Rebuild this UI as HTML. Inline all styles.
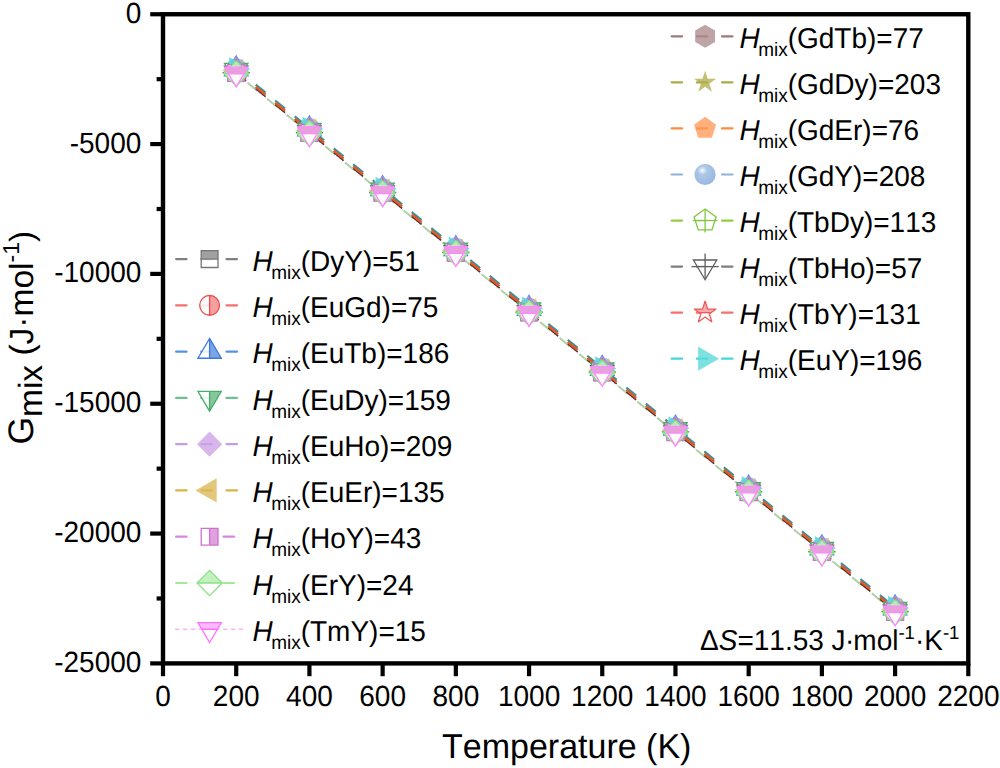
<!DOCTYPE html>
<html><head><meta charset="utf-8"><style>
html,body{margin:0;padding:0;background:#fff;}
svg{display:block;}
text{font-family:"Liberation Sans", sans-serif;fill:#000;font-kerning:none;text-rendering:geometricPrecision;}
.tk{font-size:28px;}
.ttl{font-size:34px;}
.lg{font-size:28px;}
</style></head><body>
<svg width="1000" height="768" viewBox="0 0 1000 768">
<defs><radialGradient id="sph" cx="0.42" cy="0.36" r="0.62" fx="0.36" fy="0.3">
<stop offset="0" stop-color="#ffffff"/><stop offset="0.12" stop-color="#d8e6f4"/><stop offset="0.35" stop-color="#a8c5e6"/><stop offset="1" stop-color="#92b4dc"/></radialGradient><clipPath id="c0_2362_728"><polygon points="227.81,64.40 244.61,64.40 244.61,81.20 227.81,81.20"/></clipPath><clipPath id="c1_2362_721"><circle cx="236.21" cy="72.18" r="9.9"/></clipPath><clipPath id="c3_2362_699"><polygon points="224.51,63.40 247.91,63.40 236.21,83.20"/></clipPath><clipPath id="c2_2362_692"><polygon points="236.21,56.10 247.91,75.90 224.51,75.90"/></clipPath><clipPath id="c15_2362_707"><polygon points="236.21,59.13 238.81,67.14 247.24,67.14 240.42,72.10 243.03,80.11 236.21,75.16 229.39,80.11 231.99,72.10 225.18,67.14 233.60,67.14"/></clipPath><clipPath id="c6_2362_730"><polygon points="227.81,64.61 244.61,64.61 244.61,81.41 227.81,81.41"/></clipPath><clipPath id="c7_2362_735"><polygon points="236.21,60.90 248.81,73.50 236.21,86.10 223.61,73.50"/></clipPath><clipPath id="c8_2362_737"><polygon points="224.51,67.14 247.91,67.14 236.21,86.94"/></clipPath><clipPath id="c0_3094_1326"><polygon points="301.02,124.28 317.82,124.28 317.82,141.08 301.02,141.08"/></clipPath><clipPath id="c1_3094_1320"><circle cx="309.42" cy="132.06" r="9.9"/></clipPath><clipPath id="c3_3094_1298"><polygon points="297.72,123.28 321.12,123.28 309.42,143.08"/></clipPath><clipPath id="c2_3094_1291"><polygon points="309.42,115.98 321.12,135.78 297.72,135.78"/></clipPath><clipPath id="c15_3094_1306"><polygon points="309.42,119.00 312.02,127.02 320.45,127.02 313.63,131.97 316.24,139.99 309.42,135.03 302.60,139.99 305.20,131.97 298.39,127.02 306.81,127.02"/></clipPath><clipPath id="c6_3094_1328"><polygon points="301.02,124.49 317.82,124.49 317.82,141.29 301.02,141.29"/></clipPath><clipPath id="c7_3094_1333"><polygon points="309.42,120.78 322.02,133.38 309.42,145.98 296.82,133.38"/></clipPath><clipPath id="c8_3094_1336"><polygon points="297.72,127.02 321.12,127.02 309.42,146.82"/></clipPath><clipPath id="c0_3826_1925"><polygon points="374.23,184.16 391.03,184.16 391.03,200.96 374.23,200.96"/></clipPath><clipPath id="c1_3826_1919"><circle cx="382.63" cy="191.94" r="9.9"/></clipPath><clipPath id="c3_3826_1897"><polygon points="370.93,183.15 394.33,183.15 382.63,202.95"/></clipPath><clipPath id="c2_3826_1890"><polygon points="382.63,175.85 394.33,195.65 370.93,195.65"/></clipPath><clipPath id="c15_3826_1904"><polygon points="382.63,178.88 385.23,186.90 393.66,186.90 386.84,191.85 389.45,199.87 382.63,194.91 375.81,199.87 378.41,191.85 371.60,186.90 380.02,186.90"/></clipPath><clipPath id="c6_3826_1927"><polygon points="374.23,184.37 391.03,184.37 391.03,201.17 374.23,201.17"/></clipPath><clipPath id="c7_3826_1932"><polygon points="382.63,180.66 395.23,193.26 382.63,205.86 370.03,193.26"/></clipPath><clipPath id="c8_3826_1934"><polygon points="370.93,186.89 394.33,186.89 382.63,206.69"/></clipPath><clipPath id="c0_4558_2524"><polygon points="447.44,244.04 464.24,244.04 464.24,260.84 447.44,260.84"/></clipPath><clipPath id="c1_4558_2518"><circle cx="455.84" cy="251.81" r="9.9"/></clipPath><clipPath id="c3_4558_2496"><polygon points="444.14,243.03 467.54,243.03 455.84,262.83"/></clipPath><clipPath id="c2_4558_2489"><polygon points="455.84,235.73 467.54,255.53 444.14,255.53"/></clipPath><clipPath id="c15_4558_2503"><polygon points="455.84,238.76 458.44,246.77 466.87,246.77 460.05,251.73 462.65,259.74 455.84,254.79 449.02,259.74 451.62,251.73 444.80,246.77 453.23,246.77"/></clipPath><clipPath id="c6_4558_2526"><polygon points="447.44,244.24 464.24,244.24 464.24,261.04 447.44,261.04"/></clipPath><clipPath id="c7_4558_2531"><polygon points="455.84,240.54 468.44,253.14 455.84,265.74 443.24,253.14"/></clipPath><clipPath id="c8_4558_2533"><polygon points="444.14,246.77 467.54,246.77 455.84,266.57"/></clipPath><clipPath id="c0_5290_3123"><polygon points="520.65,303.91 537.45,303.91 537.45,320.71 520.65,320.71"/></clipPath><clipPath id="c1_5290_3116"><circle cx="529.05" cy="311.69" r="9.9"/></clipPath><clipPath id="c3_5290_3095"><polygon points="517.35,302.91 540.75,302.91 529.05,322.71"/></clipPath><clipPath id="c2_5290_3088"><polygon points="529.05,295.61 540.75,315.41 517.35,315.41"/></clipPath><clipPath id="c15_5290_3102"><polygon points="529.05,298.64 531.65,306.65 540.08,306.65 533.26,311.61 535.86,319.62 529.05,314.67 522.23,319.62 524.83,311.61 518.01,306.65 526.44,306.65"/></clipPath><clipPath id="c6_5290_3125"><polygon points="520.65,304.12 537.45,304.12 537.45,320.92 520.65,320.92"/></clipPath><clipPath id="c7_5290_3130"><polygon points="529.05,300.41 541.65,313.01 529.05,325.61 516.45,313.01"/></clipPath><clipPath id="c8_5290_3132"><polygon points="517.35,306.65 540.75,306.65 529.05,326.45"/></clipPath><clipPath id="c0_6022_3721"><polygon points="593.85,363.79 610.65,363.79 610.65,380.59 593.85,380.59"/></clipPath><clipPath id="c1_6022_3715"><circle cx="602.25" cy="371.57" r="9.9"/></clipPath><clipPath id="c3_6022_3693"><polygon points="590.55,362.79 613.95,362.79 602.25,382.59"/></clipPath><clipPath id="c2_6022_3686"><polygon points="602.25,355.49 613.95,375.29 590.55,375.29"/></clipPath><clipPath id="c15_6022_3701"><polygon points="602.25,358.51 604.86,366.53 613.29,366.53 606.47,371.48 609.07,379.50 602.25,374.55 595.44,379.50 598.04,371.48 591.22,366.53 599.65,366.53"/></clipPath><clipPath id="c6_6022_3723"><polygon points="593.85,364.00 610.65,364.00 610.65,380.80 593.85,380.80"/></clipPath><clipPath id="c7_6022_3728"><polygon points="602.25,360.29 614.85,372.89 602.25,385.49 589.65,372.89"/></clipPath><clipPath id="c8_6022_3731"><polygon points="590.55,366.53 613.95,366.53 602.25,386.33"/></clipPath><clipPath id="c0_6754_4320"><polygon points="667.06,423.67 683.86,423.67 683.86,440.47 667.06,440.47"/></clipPath><clipPath id="c1_6754_4314"><circle cx="675.46" cy="431.45" r="9.9"/></clipPath><clipPath id="c3_6754_4292"><polygon points="663.76,422.66 687.16,422.66 675.46,442.46"/></clipPath><clipPath id="c2_6754_4285"><polygon points="675.46,415.36 687.16,435.16 663.76,435.16"/></clipPath><clipPath id="c15_6754_4299"><polygon points="675.46,418.39 678.07,426.41 686.50,426.41 679.68,431.36 682.28,439.38 675.46,434.42 668.65,439.38 671.25,431.36 664.43,426.41 672.86,426.41"/></clipPath><clipPath id="c6_6754_4322"><polygon points="667.06,423.88 683.86,423.88 683.86,440.68 667.06,440.68"/></clipPath><clipPath id="c7_6754_4327"><polygon points="675.46,420.17 688.06,432.77 675.46,445.37 662.86,432.77"/></clipPath><clipPath id="c8_6754_4330"><polygon points="663.76,426.40 687.16,426.40 675.46,446.20"/></clipPath><clipPath id="c0_7486_4919"><polygon points="740.27,483.55 757.07,483.55 757.07,500.35 740.27,500.35"/></clipPath><clipPath id="c1_7486_4913"><circle cx="748.67" cy="491.32" r="9.9"/></clipPath><clipPath id="c3_7486_4891"><polygon points="736.97,482.54 760.37,482.54 748.67,502.34"/></clipPath><clipPath id="c2_7486_4884"><polygon points="748.67,475.24 760.37,495.04 736.97,495.04"/></clipPath><clipPath id="c15_7486_4898"><polygon points="748.67,478.27 751.28,486.28 759.70,486.28 752.89,491.24 755.49,499.25 748.67,494.30 741.85,499.25 744.46,491.24 737.64,486.28 746.07,486.28"/></clipPath><clipPath id="c6_7486_4921"><polygon points="740.27,483.75 757.07,483.75 757.07,500.55 740.27,500.55"/></clipPath><clipPath id="c7_7486_4926"><polygon points="748.67,480.05 761.27,492.65 748.67,505.25 736.07,492.65"/></clipPath><clipPath id="c8_7486_4928"><polygon points="736.97,486.28 760.37,486.28 748.67,506.08"/></clipPath><clipPath id="c0_8218_5518"><polygon points="813.48,543.42 830.28,543.42 830.28,560.22 813.48,560.22"/></clipPath><clipPath id="c1_8218_5512"><circle cx="821.88" cy="551.20" r="9.9"/></clipPath><clipPath id="c3_8218_5490"><polygon points="810.18,542.42 833.58,542.42 821.88,562.22"/></clipPath><clipPath id="c2_8218_5483"><polygon points="821.88,535.12 833.58,554.92 810.18,554.92"/></clipPath><clipPath id="c15_8218_5497"><polygon points="821.88,538.15 824.49,546.16 832.91,546.16 826.10,551.12 828.70,559.13 821.88,554.18 815.06,559.13 817.67,551.12 810.85,546.16 819.28,546.16"/></clipPath><clipPath id="c6_8218_5520"><polygon points="813.48,543.63 830.28,543.63 830.28,560.43 813.48,560.43"/></clipPath><clipPath id="c7_8218_5525"><polygon points="821.88,539.93 834.48,552.53 821.88,565.13 809.28,552.53"/></clipPath><clipPath id="c8_8218_5527"><polygon points="810.18,546.16 833.58,546.16 821.88,565.96"/></clipPath><clipPath id="c0_8950_6117"><polygon points="886.69,603.30 903.49,603.30 903.49,620.10 886.69,620.10"/></clipPath><clipPath id="c1_8950_6110"><circle cx="895.09" cy="611.08" r="9.9"/></clipPath><clipPath id="c3_8950_6088"><polygon points="883.39,602.30 906.79,602.30 895.09,622.10"/></clipPath><clipPath id="c2_8950_6081"><polygon points="895.09,595.00 906.79,614.80 883.39,614.80"/></clipPath><clipPath id="c15_8950_6096"><polygon points="895.09,598.02 897.70,606.04 906.12,606.04 899.31,610.99 901.91,619.01 895.09,614.06 888.27,619.01 890.88,610.99 884.06,606.04 892.49,606.04"/></clipPath><clipPath id="c6_8950_6119"><polygon points="886.69,603.51 903.49,603.51 903.49,620.31 886.69,620.31"/></clipPath><clipPath id="c7_8950_6124"><polygon points="895.09,599.80 907.69,612.40 895.09,625.00 882.49,612.40"/></clipPath><clipPath id="c8_8950_6126"><polygon points="883.39,606.04 906.79,606.04 895.09,625.84"/></clipPath><clipPath id="c100_2096_2591"><polygon points="201.20,250.70 218.00,250.70 218.00,267.50 201.20,267.50"/></clipPath><clipPath id="c101_2096_3053"><circle cx="209.60" cy="305.37" r="9.9"/></clipPath><clipPath id="c102_2096_3516"><polygon points="209.60,338.44 221.30,358.24 197.90,358.24"/></clipPath><clipPath id="c103_2096_3979"><polygon points="197.90,391.31 221.30,391.31 209.60,411.11"/></clipPath><clipPath id="c106_2096_5367"><polygon points="201.20,528.32 218.00,528.32 218.00,545.12 201.20,545.12"/></clipPath><clipPath id="c107_2096_5829"><polygon points="209.60,570.39 222.20,582.99 209.60,595.59 197.00,582.99"/></clipPath><clipPath id="c108_2096_6292"><polygon points="197.90,622.66 221.30,622.66 209.60,642.46"/></clipPath><clipPath id="c115_7051_3126"><polygon points="705.10,301.06 707.70,309.08 716.13,309.08 709.31,314.03 711.92,322.04 705.10,317.09 698.28,322.04 700.89,314.03 694.07,309.08 702.50,309.08"/></clipPath></defs>
<rect width="1000" height="768" fill="#fff"/>
<rect x="163.0" y="14.25" width="805.30" height="649.15" fill="none" stroke="#000" stroke-width="4.4"/><line x1="163.00" y1="663.4" x2="163.00" y2="676.2" stroke="#000" stroke-width="4.2"/><text transform="translate(163.00,706.4) scale(1,1.045)" text-anchor="middle" class="tk">0</text><line x1="236.21" y1="663.4" x2="236.21" y2="676.2" stroke="#000" stroke-width="4.2"/><text transform="translate(236.21,706.4) scale(1,1.045)" text-anchor="middle" class="tk">200</text><line x1="309.42" y1="663.4" x2="309.42" y2="676.2" stroke="#000" stroke-width="4.2"/><text transform="translate(309.42,706.4) scale(1,1.045)" text-anchor="middle" class="tk">400</text><line x1="382.63" y1="663.4" x2="382.63" y2="676.2" stroke="#000" stroke-width="4.2"/><text transform="translate(382.63,706.4) scale(1,1.045)" text-anchor="middle" class="tk">600</text><line x1="455.84" y1="663.4" x2="455.84" y2="676.2" stroke="#000" stroke-width="4.2"/><text transform="translate(455.84,706.4) scale(1,1.045)" text-anchor="middle" class="tk">800</text><line x1="529.05" y1="663.4" x2="529.05" y2="676.2" stroke="#000" stroke-width="4.2"/><text transform="translate(529.05,706.4) scale(1,1.045)" text-anchor="middle" class="tk">1000</text><line x1="602.25" y1="663.4" x2="602.25" y2="676.2" stroke="#000" stroke-width="4.2"/><text transform="translate(602.25,706.4) scale(1,1.045)" text-anchor="middle" class="tk">1200</text><line x1="675.46" y1="663.4" x2="675.46" y2="676.2" stroke="#000" stroke-width="4.2"/><text transform="translate(675.46,706.4) scale(1,1.045)" text-anchor="middle" class="tk">1400</text><line x1="748.67" y1="663.4" x2="748.67" y2="676.2" stroke="#000" stroke-width="4.2"/><text transform="translate(748.67,706.4) scale(1,1.045)" text-anchor="middle" class="tk">1600</text><line x1="821.88" y1="663.4" x2="821.88" y2="676.2" stroke="#000" stroke-width="4.2"/><text transform="translate(821.88,706.4) scale(1,1.045)" text-anchor="middle" class="tk">1800</text><line x1="895.09" y1="663.4" x2="895.09" y2="676.2" stroke="#000" stroke-width="4.2"/><text transform="translate(895.09,706.4) scale(1,1.045)" text-anchor="middle" class="tk">2000</text><line x1="968.30" y1="663.4" x2="968.30" y2="676.2" stroke="#000" stroke-width="4.2"/><text transform="translate(968.30,706.4) scale(1,1.045)" text-anchor="middle" class="tk">2200</text><line x1="150.2" y1="14.25" x2="163.0" y2="14.25" stroke="#000" stroke-width="4.2"/><text transform="translate(141.35,22.75) scale(1,1.045)" text-anchor="end" class="tk">0</text><line x1="156.6" y1="79.17" x2="163.0" y2="79.17" stroke="#000" stroke-width="4.2"/><line x1="150.2" y1="144.08" x2="163.0" y2="144.08" stroke="#000" stroke-width="4.2"/><text transform="translate(141.35,152.58) scale(1,1.045)" text-anchor="end" class="tk">-5000</text><line x1="156.6" y1="209.00" x2="163.0" y2="209.00" stroke="#000" stroke-width="4.2"/><line x1="150.2" y1="273.91" x2="163.0" y2="273.91" stroke="#000" stroke-width="4.2"/><text transform="translate(141.35,282.41) scale(1,1.045)" text-anchor="end" class="tk">-10000</text><line x1="156.6" y1="338.82" x2="163.0" y2="338.82" stroke="#000" stroke-width="4.2"/><line x1="150.2" y1="403.74" x2="163.0" y2="403.74" stroke="#000" stroke-width="4.2"/><text transform="translate(141.35,412.24) scale(1,1.045)" text-anchor="end" class="tk">-15000</text><line x1="156.6" y1="468.65" x2="163.0" y2="468.65" stroke="#000" stroke-width="4.2"/><line x1="150.2" y1="533.57" x2="163.0" y2="533.57" stroke="#000" stroke-width="4.2"/><text transform="translate(141.35,542.07) scale(1,1.045)" text-anchor="end" class="tk">-20000</text><line x1="156.6" y1="598.49" x2="163.0" y2="598.49" stroke="#000" stroke-width="4.2"/><line x1="150.2" y1="663.40" x2="163.0" y2="663.40" stroke="#000" stroke-width="4.2"/><text transform="translate(141.35,671.90) scale(1,1.045)" text-anchor="end" class="tk">-25000</text><text transform="translate(442.0,758) scale(1,1.015)" class="ttl">Temperature (K)</text><text transform="translate(32.8,444.6) rotate(-90)" class="ttl" style="font-size:33.5px"><tspan font-size="35.5px">G</tspan><tspan dy="9.3">mix</tspan><tspan dy="-9.3"> (J·mol</tspan><tspan dy="-13.7" font-size="23px">-1</tspan><tspan dy="13.7">)</tspan></text><g><polyline points="236.21,73.50 309.42,133.38 382.63,193.26 455.84,253.14 529.05,313.01 602.25,372.89 675.46,432.77 748.67,492.65 821.88,552.53 895.09,612.40" fill="none" stroke="#a6dc9e" stroke-width="2.0" stroke-dasharray="12.7 12.5" stroke-dashoffset="10.5"/><polyline points="236.21,73.74 309.42,133.62 382.63,193.49 455.84,253.37 529.05,313.25 602.25,373.13 675.46,433.00 748.67,492.88 821.88,552.76 895.09,612.64" fill="none" stroke="#ee8ee6" stroke-width="1.1" stroke-dasharray="1.3 2.4" stroke-opacity="0.6"/><polyline points="236.21,68.57 309.42,128.45 382.63,188.33 455.84,248.20 529.05,308.08 602.25,367.96 675.46,427.84 748.67,487.71 821.88,547.59 895.09,607.47" fill="none" stroke="#3d8e9c" stroke-width="2.2" stroke-dasharray="12.7 12.5"/><polyline points="236.21,72.73 309.42,132.60 382.63,192.48 455.84,252.36 529.05,312.24 602.25,372.11 675.46,431.99 748.67,491.87 821.88,551.75 895.09,611.62" fill="none" stroke="#4a2d1e" stroke-width="1.6" stroke-dasharray="12.7 12.5"/><polyline points="236.21,70.80 309.42,130.68 382.63,190.56 455.84,250.44 529.05,310.31 602.25,370.19 675.46,430.07 748.67,489.95 821.88,549.82 895.09,609.70" fill="none" stroke="#e05a2a" stroke-width="2.5" stroke-dasharray="12.7 12.5"/></g><g><polygon points="236.21,60.68 246.13,66.40 246.13,77.85 236.21,83.58 226.29,77.85 226.29,66.40" fill="#ad8a8e" fill-opacity="0.6" stroke="none" stroke-width="1.3" stroke-linejoin="miter" stroke-miterlimit="3"/><polygon points="236.21,57.26 238.81,65.27 247.24,65.27 240.42,70.23 243.03,78.24 236.21,73.29 229.39,78.24 231.99,70.23 225.18,65.27 233.60,65.27" fill="#b1ae4a" fill-opacity="0.6" stroke="none" stroke-width="1.3" stroke-linejoin="miter" stroke-miterlimit="3"/><polygon points="236.21,60.55 247.24,68.57 243.03,81.54 229.39,81.54 225.18,68.57" fill="#ff9a58" fill-opacity="0.6" stroke="none" stroke-width="1.3" stroke-linejoin="miter" stroke-miterlimit="3"/><circle cx="236.21" cy="68.73" r="10.6" fill="url(#sph)" fill-opacity="0.95"/><polygon points="236.21,59.59 247.24,67.61 243.03,80.58 229.39,80.58 225.18,67.61" fill="#fff" fill-opacity="0.55"/><polygon points="236.21,59.59 247.24,67.61 243.03,80.58 229.39,80.58 225.18,67.61" fill="none" stroke="#80c640" stroke-width="1.3" stroke-linejoin="miter" stroke-miterlimit="3"/><line x1="236.21" y1="59.59" x2="236.21" y2="83.19" stroke="#80c640" stroke-width="1.3"/><line x1="223.91" y1="71.19" x2="248.51" y2="71.19" stroke="#80c640" stroke-width="1.3"/><polygon points="224.51,66.05 247.91,66.05 236.21,85.85" fill="#fff" fill-opacity="0.55"/><polygon points="224.51,66.05 247.91,66.05 236.21,85.85" fill="none" stroke="#5e5e5e" stroke-width="1.3" stroke-linejoin="miter" stroke-miterlimit="3"/><line x1="236.21" y1="59.45" x2="236.21" y2="84.65" stroke="#5e5e5e" stroke-width="1.3"/><line x1="222.61" y1="72.65" x2="249.81" y2="72.65" stroke="#5e5e5e" stroke-width="1.3"/><polygon points="222.01,70.62 243.31,58.52 243.31,82.72" fill="#dbb756" fill-opacity="0.6" stroke="none" stroke-width="1.3" stroke-linejoin="miter" stroke-miterlimit="3"/><polygon points="227.81,64.40 244.61,64.40 244.61,81.20 227.81,81.20" fill="#fff" fill-opacity="0.55"/><g clip-path="url(#c0_2362_728)"><rect x="216.21" y="52.80" width="40" height="20" fill="#8a8a8a" fill-opacity="0.65"/><line x1="216.21" y1="72.80" x2="256.21" y2="72.80" stroke="#767676" stroke-width="1.3"/></g><polygon points="227.81,64.40 244.61,64.40 244.61,81.20 227.81,81.20" fill="none" stroke="#767676" stroke-width="1.3" stroke-linejoin="miter" stroke-miterlimit="3"/><circle cx="236.21" cy="72.18" r="9.9" fill="#fff" fill-opacity="0.55"/><g clip-path="url(#c1_2362_721)"><rect x="236.21" y="52.18" width="20" height="40" fill="#f28888" fill-opacity="0.65"/><line x1="236.21" y1="52.18" x2="236.21" y2="92.18" stroke="#f04848" stroke-width="1.3"/></g><circle cx="236.21" cy="72.18" r="9.9" fill="none" stroke="#f04848" stroke-width="1.3" stroke-linejoin="miter" stroke-miterlimit="3"/><polygon points="224.51,63.40 247.91,63.40 236.21,83.20" fill="#fff" fill-opacity="0.55"/><g clip-path="url(#c3_2362_699)"><rect x="236.21" y="50.00" width="20" height="40" fill="#64bb82" fill-opacity="0.65"/><line x1="236.21" y1="50.00" x2="236.21" y2="90.00" stroke="#48ad6a" stroke-width="1.3"/></g><polygon points="224.51,63.40 247.91,63.40 236.21,83.20" fill="none" stroke="#48ad6a" stroke-width="1.3" stroke-linejoin="miter" stroke-miterlimit="3"/><polygon points="236.21,56.10 247.91,75.90 224.51,75.90" fill="#fff" fill-opacity="0.55"/><g clip-path="url(#c2_2362_692)"><rect x="236.21" y="49.30" width="20" height="40" fill="#5b8fe0" fill-opacity="0.65"/><line x1="236.21" y1="49.30" x2="236.21" y2="89.30" stroke="#3a78e0" stroke-width="1.3"/></g><polygon points="236.21,56.10 247.91,75.90 224.51,75.90" fill="none" stroke="#3a78e0" stroke-width="1.3" stroke-linejoin="miter" stroke-miterlimit="3"/><polygon points="236.21,56.10 248.81,68.70 236.21,81.30 223.61,68.70" fill="#cba2e6" fill-opacity="0.6" stroke="none" stroke-width="1.3" stroke-linejoin="miter" stroke-miterlimit="3"/><polygon points="236.21,59.13 238.81,67.14 247.24,67.14 240.42,72.10 243.03,80.11 236.21,75.16 229.39,80.11 231.99,72.10 225.18,67.14 233.60,67.14" fill="#fff" fill-opacity="0.55"/><g clip-path="url(#c15_2362_707)"><rect x="216.21" y="50.73" width="40" height="20" fill="#f49494" fill-opacity="0.65"/><line x1="216.21" y1="70.73" x2="256.21" y2="70.73" stroke="#ef5a5a" stroke-width="1.3"/></g><polygon points="236.21,59.13 238.81,67.14 247.24,67.14 240.42,72.10 243.03,80.11 236.21,75.16 229.39,80.11 231.99,72.10 225.18,67.14 233.60,67.14" fill="none" stroke="#ef5a5a" stroke-width="1.3" stroke-linejoin="miter" stroke-miterlimit="3"/><polygon points="250.21,69.04 229.21,56.94 229.21,81.14" fill="#5ad8d8" fill-opacity="0.85" stroke="none" stroke-width="1.3" stroke-linejoin="miter" stroke-miterlimit="3"/><polygon points="227.81,64.61 244.61,64.61 244.61,81.41 227.81,81.41" fill="#fff" fill-opacity="0.55"/><g clip-path="url(#c6_2362_730)"><rect x="236.21" y="53.01" width="20" height="40" fill="#d98ad6" fill-opacity="0.65"/><line x1="236.21" y1="53.01" x2="236.21" y2="93.01" stroke="#cf72cc" stroke-width="1.3"/></g><polygon points="227.81,64.61 244.61,64.61 244.61,81.41 227.81,81.41" fill="none" stroke="#cf72cc" stroke-width="1.3" stroke-linejoin="miter" stroke-miterlimit="3"/><polygon points="236.21,60.90 248.81,73.50 236.21,86.10 223.61,73.50" fill="#fff" fill-opacity="0.55"/><g clip-path="url(#c7_2362_735)"><rect x="216.21" y="53.50" width="40" height="20" fill="#b2eeac" fill-opacity="0.65"/><line x1="216.21" y1="73.50" x2="256.21" y2="73.50" stroke="#8be087" stroke-width="1.3"/></g><polygon points="236.21,60.90 248.81,73.50 236.21,86.10 223.61,73.50" fill="none" stroke="#8be087" stroke-width="1.3" stroke-linejoin="miter" stroke-miterlimit="3"/><polygon points="224.51,67.14 247.91,67.14 236.21,86.94" fill="#fff" fill-opacity="0.9"/><g clip-path="url(#c8_2362_737)"><rect x="216.21" y="53.74" width="40" height="20" fill="#e6a0dc" fill-opacity="1.0"/><line x1="216.21" y1="73.74" x2="256.21" y2="73.74" stroke="#ff88ff" stroke-width="1.3"/></g><polygon points="224.51,67.14 247.91,67.14 236.21,86.94" fill="none" stroke="#ff88ff" stroke-width="1.3" stroke-linejoin="miter" stroke-miterlimit="3"/><polygon points="309.42,120.56 319.33,126.28 319.33,137.73 309.42,143.46 299.50,137.73 299.50,126.28" fill="#ad8a8e" fill-opacity="0.6" stroke="none" stroke-width="1.3" stroke-linejoin="miter" stroke-miterlimit="3"/><polygon points="309.42,117.13 312.02,125.15 320.45,125.15 313.63,130.10 316.24,138.12 309.42,133.17 302.60,138.12 305.20,130.10 298.39,125.15 306.81,125.15" fill="#b1ae4a" fill-opacity="0.6" stroke="none" stroke-width="1.3" stroke-linejoin="miter" stroke-miterlimit="3"/><polygon points="309.42,120.43 320.45,128.45 316.24,141.42 302.60,141.42 298.39,128.45" fill="#ff9a58" fill-opacity="0.6" stroke="none" stroke-width="1.3" stroke-linejoin="miter" stroke-miterlimit="3"/><circle cx="309.42" cy="128.60" r="10.6" fill="url(#sph)" fill-opacity="0.95"/><polygon points="309.42,119.47 320.45,127.49 316.24,140.46 302.60,140.46 298.39,127.49" fill="#fff" fill-opacity="0.55"/><polygon points="309.42,119.47 320.45,127.49 316.24,140.46 302.60,140.46 298.39,127.49" fill="none" stroke="#80c640" stroke-width="1.3" stroke-linejoin="miter" stroke-miterlimit="3"/><line x1="309.42" y1="119.47" x2="309.42" y2="143.07" stroke="#80c640" stroke-width="1.3"/><line x1="297.12" y1="131.07" x2="321.72" y2="131.07" stroke="#80c640" stroke-width="1.3"/><polygon points="297.72,125.93 321.12,125.93 309.42,145.73" fill="#fff" fill-opacity="0.55"/><polygon points="297.72,125.93 321.12,125.93 309.42,145.73" fill="none" stroke="#5e5e5e" stroke-width="1.3" stroke-linejoin="miter" stroke-miterlimit="3"/><line x1="309.42" y1="119.33" x2="309.42" y2="144.53" stroke="#5e5e5e" stroke-width="1.3"/><line x1="295.82" y1="132.53" x2="323.02" y2="132.53" stroke="#5e5e5e" stroke-width="1.3"/><polygon points="295.22,130.50 316.52,118.40 316.52,142.60" fill="#dbb756" fill-opacity="0.6" stroke="none" stroke-width="1.3" stroke-linejoin="miter" stroke-miterlimit="3"/><polygon points="301.02,124.28 317.82,124.28 317.82,141.08 301.02,141.08" fill="#fff" fill-opacity="0.55"/><g clip-path="url(#c0_3094_1326)"><rect x="289.42" y="112.68" width="40" height="20" fill="#8a8a8a" fill-opacity="0.65"/><line x1="289.42" y1="132.68" x2="329.42" y2="132.68" stroke="#767676" stroke-width="1.3"/></g><polygon points="301.02,124.28 317.82,124.28 317.82,141.08 301.02,141.08" fill="none" stroke="#767676" stroke-width="1.3" stroke-linejoin="miter" stroke-miterlimit="3"/><circle cx="309.42" cy="132.06" r="9.9" fill="#fff" fill-opacity="0.55"/><g clip-path="url(#c1_3094_1320)"><rect x="309.42" y="112.06" width="20" height="40" fill="#f28888" fill-opacity="0.65"/><line x1="309.42" y1="112.06" x2="309.42" y2="152.06" stroke="#f04848" stroke-width="1.3"/></g><circle cx="309.42" cy="132.06" r="9.9" fill="none" stroke="#f04848" stroke-width="1.3" stroke-linejoin="miter" stroke-miterlimit="3"/><polygon points="297.72,123.28 321.12,123.28 309.42,143.08" fill="#fff" fill-opacity="0.55"/><g clip-path="url(#c3_3094_1298)"><rect x="309.42" y="109.88" width="20" height="40" fill="#64bb82" fill-opacity="0.65"/><line x1="309.42" y1="109.88" x2="309.42" y2="149.88" stroke="#48ad6a" stroke-width="1.3"/></g><polygon points="297.72,123.28 321.12,123.28 309.42,143.08" fill="none" stroke="#48ad6a" stroke-width="1.3" stroke-linejoin="miter" stroke-miterlimit="3"/><polygon points="309.42,115.98 321.12,135.78 297.72,135.78" fill="#fff" fill-opacity="0.55"/><g clip-path="url(#c2_3094_1291)"><rect x="309.42" y="109.18" width="20" height="40" fill="#5b8fe0" fill-opacity="0.65"/><line x1="309.42" y1="109.18" x2="309.42" y2="149.18" stroke="#3a78e0" stroke-width="1.3"/></g><polygon points="309.42,115.98 321.12,135.78 297.72,135.78" fill="none" stroke="#3a78e0" stroke-width="1.3" stroke-linejoin="miter" stroke-miterlimit="3"/><polygon points="309.42,115.98 322.02,128.58 309.42,141.18 296.82,128.58" fill="#cba2e6" fill-opacity="0.6" stroke="none" stroke-width="1.3" stroke-linejoin="miter" stroke-miterlimit="3"/><polygon points="309.42,119.00 312.02,127.02 320.45,127.02 313.63,131.97 316.24,139.99 309.42,135.03 302.60,139.99 305.20,131.97 298.39,127.02 306.81,127.02" fill="#fff" fill-opacity="0.55"/><g clip-path="url(#c15_3094_1306)"><rect x="289.42" y="110.60" width="40" height="20" fill="#f49494" fill-opacity="0.65"/><line x1="289.42" y1="130.60" x2="329.42" y2="130.60" stroke="#ef5a5a" stroke-width="1.3"/></g><polygon points="309.42,119.00 312.02,127.02 320.45,127.02 313.63,131.97 316.24,139.99 309.42,135.03 302.60,139.99 305.20,131.97 298.39,127.02 306.81,127.02" fill="none" stroke="#ef5a5a" stroke-width="1.3" stroke-linejoin="miter" stroke-miterlimit="3"/><polygon points="323.42,128.92 302.42,116.82 302.42,141.02" fill="#5ad8d8" fill-opacity="0.85" stroke="none" stroke-width="1.3" stroke-linejoin="miter" stroke-miterlimit="3"/><polygon points="301.02,124.49 317.82,124.49 317.82,141.29 301.02,141.29" fill="#fff" fill-opacity="0.55"/><g clip-path="url(#c6_3094_1328)"><rect x="309.42" y="112.89" width="20" height="40" fill="#d98ad6" fill-opacity="0.65"/><line x1="309.42" y1="112.89" x2="309.42" y2="152.89" stroke="#cf72cc" stroke-width="1.3"/></g><polygon points="301.02,124.49 317.82,124.49 317.82,141.29 301.02,141.29" fill="none" stroke="#cf72cc" stroke-width="1.3" stroke-linejoin="miter" stroke-miterlimit="3"/><polygon points="309.42,120.78 322.02,133.38 309.42,145.98 296.82,133.38" fill="#fff" fill-opacity="0.55"/><g clip-path="url(#c7_3094_1333)"><rect x="289.42" y="113.38" width="40" height="20" fill="#b2eeac" fill-opacity="0.65"/><line x1="289.42" y1="133.38" x2="329.42" y2="133.38" stroke="#8be087" stroke-width="1.3"/></g><polygon points="309.42,120.78 322.02,133.38 309.42,145.98 296.82,133.38" fill="none" stroke="#8be087" stroke-width="1.3" stroke-linejoin="miter" stroke-miterlimit="3"/><polygon points="297.72,127.02 321.12,127.02 309.42,146.82" fill="#fff" fill-opacity="0.9"/><g clip-path="url(#c8_3094_1336)"><rect x="289.42" y="113.62" width="40" height="20" fill="#e6a0dc" fill-opacity="1.0"/><line x1="289.42" y1="133.62" x2="329.42" y2="133.62" stroke="#ff88ff" stroke-width="1.3"/></g><polygon points="297.72,127.02 321.12,127.02 309.42,146.82" fill="none" stroke="#ff88ff" stroke-width="1.3" stroke-linejoin="miter" stroke-miterlimit="3"/><polygon points="382.63,180.43 392.54,186.16 392.54,197.61 382.63,203.33 372.71,197.61 372.71,186.16" fill="#ad8a8e" fill-opacity="0.6" stroke="none" stroke-width="1.3" stroke-linejoin="miter" stroke-miterlimit="3"/><polygon points="382.63,177.01 385.23,185.03 393.66,185.03 386.84,189.98 389.45,198.00 382.63,193.04 375.81,198.00 378.41,189.98 371.60,185.03 380.02,185.03" fill="#b1ae4a" fill-opacity="0.6" stroke="none" stroke-width="1.3" stroke-linejoin="miter" stroke-miterlimit="3"/><polygon points="382.63,180.31 393.66,188.32 389.45,201.29 375.81,201.29 371.60,188.32" fill="#ff9a58" fill-opacity="0.6" stroke="none" stroke-width="1.3" stroke-linejoin="miter" stroke-miterlimit="3"/><circle cx="382.63" cy="188.48" r="10.6" fill="url(#sph)" fill-opacity="0.95"/><polygon points="382.63,179.35 393.66,187.36 389.45,200.33 375.81,200.33 371.60,187.36" fill="#fff" fill-opacity="0.55"/><polygon points="382.63,179.35 393.66,187.36 389.45,200.33 375.81,200.33 371.60,187.36" fill="none" stroke="#80c640" stroke-width="1.3" stroke-linejoin="miter" stroke-miterlimit="3"/><line x1="382.63" y1="179.35" x2="382.63" y2="202.95" stroke="#80c640" stroke-width="1.3"/><line x1="370.33" y1="190.95" x2="394.93" y2="190.95" stroke="#80c640" stroke-width="1.3"/><polygon points="370.93,185.80 394.33,185.80 382.63,205.60" fill="#fff" fill-opacity="0.55"/><polygon points="370.93,185.80 394.33,185.80 382.63,205.60" fill="none" stroke="#5e5e5e" stroke-width="1.3" stroke-linejoin="miter" stroke-miterlimit="3"/><line x1="382.63" y1="179.20" x2="382.63" y2="204.40" stroke="#5e5e5e" stroke-width="1.3"/><line x1="369.03" y1="192.40" x2="396.23" y2="192.40" stroke="#5e5e5e" stroke-width="1.3"/><polygon points="368.43,190.38 389.73,178.28 389.73,202.48" fill="#dbb756" fill-opacity="0.6" stroke="none" stroke-width="1.3" stroke-linejoin="miter" stroke-miterlimit="3"/><polygon points="374.23,184.16 391.03,184.16 391.03,200.96 374.23,200.96" fill="#fff" fill-opacity="0.55"/><g clip-path="url(#c0_3826_1925)"><rect x="362.63" y="172.56" width="40" height="20" fill="#8a8a8a" fill-opacity="0.65"/><line x1="362.63" y1="192.56" x2="402.63" y2="192.56" stroke="#767676" stroke-width="1.3"/></g><polygon points="374.23,184.16 391.03,184.16 391.03,200.96 374.23,200.96" fill="none" stroke="#767676" stroke-width="1.3" stroke-linejoin="miter" stroke-miterlimit="3"/><circle cx="382.63" cy="191.94" r="9.9" fill="#fff" fill-opacity="0.55"/><g clip-path="url(#c1_3826_1919)"><rect x="382.63" y="171.94" width="20" height="40" fill="#f28888" fill-opacity="0.65"/><line x1="382.63" y1="171.94" x2="382.63" y2="211.94" stroke="#f04848" stroke-width="1.3"/></g><circle cx="382.63" cy="191.94" r="9.9" fill="none" stroke="#f04848" stroke-width="1.3" stroke-linejoin="miter" stroke-miterlimit="3"/><polygon points="370.93,183.15 394.33,183.15 382.63,202.95" fill="#fff" fill-opacity="0.55"/><g clip-path="url(#c3_3826_1897)"><rect x="382.63" y="169.75" width="20" height="40" fill="#64bb82" fill-opacity="0.65"/><line x1="382.63" y1="169.75" x2="382.63" y2="209.75" stroke="#48ad6a" stroke-width="1.3"/></g><polygon points="370.93,183.15 394.33,183.15 382.63,202.95" fill="none" stroke="#48ad6a" stroke-width="1.3" stroke-linejoin="miter" stroke-miterlimit="3"/><polygon points="382.63,175.85 394.33,195.65 370.93,195.65" fill="#fff" fill-opacity="0.55"/><g clip-path="url(#c2_3826_1890)"><rect x="382.63" y="169.05" width="20" height="40" fill="#5b8fe0" fill-opacity="0.65"/><line x1="382.63" y1="169.05" x2="382.63" y2="209.05" stroke="#3a78e0" stroke-width="1.3"/></g><polygon points="382.63,175.85 394.33,195.65 370.93,195.65" fill="none" stroke="#3a78e0" stroke-width="1.3" stroke-linejoin="miter" stroke-miterlimit="3"/><polygon points="382.63,175.86 395.23,188.46 382.63,201.06 370.03,188.46" fill="#cba2e6" fill-opacity="0.6" stroke="none" stroke-width="1.3" stroke-linejoin="miter" stroke-miterlimit="3"/><polygon points="382.63,178.88 385.23,186.90 393.66,186.90 386.84,191.85 389.45,199.87 382.63,194.91 375.81,199.87 378.41,191.85 371.60,186.90 380.02,186.90" fill="#fff" fill-opacity="0.55"/><g clip-path="url(#c15_3826_1904)"><rect x="362.63" y="170.48" width="40" height="20" fill="#f49494" fill-opacity="0.65"/><line x1="362.63" y1="190.48" x2="402.63" y2="190.48" stroke="#ef5a5a" stroke-width="1.3"/></g><polygon points="382.63,178.88 385.23,186.90 393.66,186.90 386.84,191.85 389.45,199.87 382.63,194.91 375.81,199.87 378.41,191.85 371.60,186.90 380.02,186.90" fill="none" stroke="#ef5a5a" stroke-width="1.3" stroke-linejoin="miter" stroke-miterlimit="3"/><polygon points="396.63,188.79 375.63,176.69 375.63,200.89" fill="#5ad8d8" fill-opacity="0.85" stroke="none" stroke-width="1.3" stroke-linejoin="miter" stroke-miterlimit="3"/><polygon points="374.23,184.37 391.03,184.37 391.03,201.17 374.23,201.17" fill="#fff" fill-opacity="0.55"/><g clip-path="url(#c6_3826_1927)"><rect x="382.63" y="172.77" width="20" height="40" fill="#d98ad6" fill-opacity="0.65"/><line x1="382.63" y1="172.77" x2="382.63" y2="212.77" stroke="#cf72cc" stroke-width="1.3"/></g><polygon points="374.23,184.37 391.03,184.37 391.03,201.17 374.23,201.17" fill="none" stroke="#cf72cc" stroke-width="1.3" stroke-linejoin="miter" stroke-miterlimit="3"/><polygon points="382.63,180.66 395.23,193.26 382.63,205.86 370.03,193.26" fill="#fff" fill-opacity="0.55"/><g clip-path="url(#c7_3826_1932)"><rect x="362.63" y="173.26" width="40" height="20" fill="#b2eeac" fill-opacity="0.65"/><line x1="362.63" y1="193.26" x2="402.63" y2="193.26" stroke="#8be087" stroke-width="1.3"/></g><polygon points="382.63,180.66 395.23,193.26 382.63,205.86 370.03,193.26" fill="none" stroke="#8be087" stroke-width="1.3" stroke-linejoin="miter" stroke-miterlimit="3"/><polygon points="370.93,186.89 394.33,186.89 382.63,206.69" fill="#fff" fill-opacity="0.9"/><g clip-path="url(#c8_3826_1934)"><rect x="362.63" y="173.49" width="40" height="20" fill="#e6a0dc" fill-opacity="1.0"/><line x1="362.63" y1="193.49" x2="402.63" y2="193.49" stroke="#ff88ff" stroke-width="1.3"/></g><polygon points="370.93,186.89 394.33,186.89 382.63,206.69" fill="none" stroke="#ff88ff" stroke-width="1.3" stroke-linejoin="miter" stroke-miterlimit="3"/><polygon points="455.84,240.31 465.75,246.04 465.75,257.49 455.84,263.21 445.92,257.49 445.92,246.04" fill="#ad8a8e" fill-opacity="0.6" stroke="none" stroke-width="1.3" stroke-linejoin="miter" stroke-miterlimit="3"/><polygon points="455.84,236.89 458.44,244.90 466.87,244.90 460.05,249.86 462.65,257.87 455.84,252.92 449.02,257.87 451.62,249.86 444.80,244.90 453.23,244.90" fill="#b1ae4a" fill-opacity="0.6" stroke="none" stroke-width="1.3" stroke-linejoin="miter" stroke-miterlimit="3"/><polygon points="455.84,240.19 466.87,248.20 462.65,261.17 449.02,261.17 444.80,248.20" fill="#ff9a58" fill-opacity="0.6" stroke="none" stroke-width="1.3" stroke-linejoin="miter" stroke-miterlimit="3"/><circle cx="455.84" cy="248.36" r="10.6" fill="url(#sph)" fill-opacity="0.95"/><polygon points="455.84,239.23 466.87,247.24 462.65,260.21 449.02,260.21 444.80,247.24" fill="#fff" fill-opacity="0.55"/><polygon points="455.84,239.23 466.87,247.24 462.65,260.21 449.02,260.21 444.80,247.24" fill="none" stroke="#80c640" stroke-width="1.3" stroke-linejoin="miter" stroke-miterlimit="3"/><line x1="455.84" y1="239.23" x2="455.84" y2="262.83" stroke="#80c640" stroke-width="1.3"/><line x1="443.54" y1="250.83" x2="468.14" y2="250.83" stroke="#80c640" stroke-width="1.3"/><polygon points="444.14,245.68 467.54,245.68 455.84,265.48" fill="#fff" fill-opacity="0.55"/><polygon points="444.14,245.68 467.54,245.68 455.84,265.48" fill="none" stroke="#5e5e5e" stroke-width="1.3" stroke-linejoin="miter" stroke-miterlimit="3"/><line x1="455.84" y1="239.08" x2="455.84" y2="264.28" stroke="#5e5e5e" stroke-width="1.3"/><line x1="442.24" y1="252.28" x2="469.44" y2="252.28" stroke="#5e5e5e" stroke-width="1.3"/><polygon points="441.64,250.25 462.94,238.15 462.94,262.35" fill="#dbb756" fill-opacity="0.6" stroke="none" stroke-width="1.3" stroke-linejoin="miter" stroke-miterlimit="3"/><polygon points="447.44,244.04 464.24,244.04 464.24,260.84 447.44,260.84" fill="#fff" fill-opacity="0.55"/><g clip-path="url(#c0_4558_2524)"><rect x="435.84" y="232.44" width="40" height="20" fill="#8a8a8a" fill-opacity="0.65"/><line x1="435.84" y1="252.44" x2="475.84" y2="252.44" stroke="#767676" stroke-width="1.3"/></g><polygon points="447.44,244.04 464.24,244.04 464.24,260.84 447.44,260.84" fill="none" stroke="#767676" stroke-width="1.3" stroke-linejoin="miter" stroke-miterlimit="3"/><circle cx="455.84" cy="251.81" r="9.9" fill="#fff" fill-opacity="0.55"/><g clip-path="url(#c1_4558_2518)"><rect x="455.84" y="231.81" width="20" height="40" fill="#f28888" fill-opacity="0.65"/><line x1="455.84" y1="231.81" x2="455.84" y2="271.81" stroke="#f04848" stroke-width="1.3"/></g><circle cx="455.84" cy="251.81" r="9.9" fill="none" stroke="#f04848" stroke-width="1.3" stroke-linejoin="miter" stroke-miterlimit="3"/><polygon points="444.14,243.03 467.54,243.03 455.84,262.83" fill="#fff" fill-opacity="0.55"/><g clip-path="url(#c3_4558_2496)"><rect x="455.84" y="229.63" width="20" height="40" fill="#64bb82" fill-opacity="0.65"/><line x1="455.84" y1="229.63" x2="455.84" y2="269.63" stroke="#48ad6a" stroke-width="1.3"/></g><polygon points="444.14,243.03 467.54,243.03 455.84,262.83" fill="none" stroke="#48ad6a" stroke-width="1.3" stroke-linejoin="miter" stroke-miterlimit="3"/><polygon points="455.84,235.73 467.54,255.53 444.14,255.53" fill="#fff" fill-opacity="0.55"/><g clip-path="url(#c2_4558_2489)"><rect x="455.84" y="228.93" width="20" height="40" fill="#5b8fe0" fill-opacity="0.65"/><line x1="455.84" y1="228.93" x2="455.84" y2="268.93" stroke="#3a78e0" stroke-width="1.3"/></g><polygon points="455.84,235.73 467.54,255.53 444.14,255.53" fill="none" stroke="#3a78e0" stroke-width="1.3" stroke-linejoin="miter" stroke-miterlimit="3"/><polygon points="455.84,235.73 468.44,248.33 455.84,260.93 443.24,248.33" fill="#cba2e6" fill-opacity="0.6" stroke="none" stroke-width="1.3" stroke-linejoin="miter" stroke-miterlimit="3"/><polygon points="455.84,238.76 458.44,246.77 466.87,246.77 460.05,251.73 462.65,259.74 455.84,254.79 449.02,259.74 451.62,251.73 444.80,246.77 453.23,246.77" fill="#fff" fill-opacity="0.55"/><g clip-path="url(#c15_4558_2503)"><rect x="435.84" y="230.36" width="40" height="20" fill="#f49494" fill-opacity="0.65"/><line x1="435.84" y1="250.36" x2="475.84" y2="250.36" stroke="#ef5a5a" stroke-width="1.3"/></g><polygon points="455.84,238.76 458.44,246.77 466.87,246.77 460.05,251.73 462.65,259.74 455.84,254.79 449.02,259.74 451.62,251.73 444.80,246.77 453.23,246.77" fill="none" stroke="#ef5a5a" stroke-width="1.3" stroke-linejoin="miter" stroke-miterlimit="3"/><polygon points="469.84,248.67 448.84,236.57 448.84,260.77" fill="#5ad8d8" fill-opacity="0.85" stroke="none" stroke-width="1.3" stroke-linejoin="miter" stroke-miterlimit="3"/><polygon points="447.44,244.24 464.24,244.24 464.24,261.04 447.44,261.04" fill="#fff" fill-opacity="0.55"/><g clip-path="url(#c6_4558_2526)"><rect x="455.84" y="232.64" width="20" height="40" fill="#d98ad6" fill-opacity="0.65"/><line x1="455.84" y1="232.64" x2="455.84" y2="272.64" stroke="#cf72cc" stroke-width="1.3"/></g><polygon points="447.44,244.24 464.24,244.24 464.24,261.04 447.44,261.04" fill="none" stroke="#cf72cc" stroke-width="1.3" stroke-linejoin="miter" stroke-miterlimit="3"/><polygon points="455.84,240.54 468.44,253.14 455.84,265.74 443.24,253.14" fill="#fff" fill-opacity="0.55"/><g clip-path="url(#c7_4558_2531)"><rect x="435.84" y="233.14" width="40" height="20" fill="#b2eeac" fill-opacity="0.65"/><line x1="435.84" y1="253.14" x2="475.84" y2="253.14" stroke="#8be087" stroke-width="1.3"/></g><polygon points="455.84,240.54 468.44,253.14 455.84,265.74 443.24,253.14" fill="none" stroke="#8be087" stroke-width="1.3" stroke-linejoin="miter" stroke-miterlimit="3"/><polygon points="444.14,246.77 467.54,246.77 455.84,266.57" fill="#fff" fill-opacity="0.9"/><g clip-path="url(#c8_4558_2533)"><rect x="435.84" y="233.37" width="40" height="20" fill="#e6a0dc" fill-opacity="1.0"/><line x1="435.84" y1="253.37" x2="475.84" y2="253.37" stroke="#ff88ff" stroke-width="1.3"/></g><polygon points="444.14,246.77 467.54,246.77 455.84,266.57" fill="none" stroke="#ff88ff" stroke-width="1.3" stroke-linejoin="miter" stroke-miterlimit="3"/><polygon points="529.05,300.19 538.96,305.91 538.96,317.36 529.05,323.09 519.13,317.36 519.13,305.91" fill="#ad8a8e" fill-opacity="0.6" stroke="none" stroke-width="1.3" stroke-linejoin="miter" stroke-miterlimit="3"/><polygon points="529.05,296.77 531.65,304.78 540.08,304.78 533.26,309.74 535.86,317.75 529.05,312.80 522.23,317.75 524.83,309.74 518.01,304.78 526.44,304.78" fill="#b1ae4a" fill-opacity="0.6" stroke="none" stroke-width="1.3" stroke-linejoin="miter" stroke-miterlimit="3"/><polygon points="529.05,300.06 540.08,308.08 535.86,321.05 522.23,321.05 518.01,308.08" fill="#ff9a58" fill-opacity="0.6" stroke="none" stroke-width="1.3" stroke-linejoin="miter" stroke-miterlimit="3"/><circle cx="529.05" cy="308.24" r="10.6" fill="url(#sph)" fill-opacity="0.95"/><polygon points="529.05,299.10 540.08,307.12 535.86,320.09 522.23,320.09 518.01,307.12" fill="#fff" fill-opacity="0.55"/><polygon points="529.05,299.10 540.08,307.12 535.86,320.09 522.23,320.09 518.01,307.12" fill="none" stroke="#80c640" stroke-width="1.3" stroke-linejoin="miter" stroke-miterlimit="3"/><line x1="529.05" y1="299.10" x2="529.05" y2="322.70" stroke="#80c640" stroke-width="1.3"/><line x1="516.75" y1="310.70" x2="541.35" y2="310.70" stroke="#80c640" stroke-width="1.3"/><polygon points="517.35,305.56 540.75,305.56 529.05,325.36" fill="#fff" fill-opacity="0.55"/><polygon points="517.35,305.56 540.75,305.56 529.05,325.36" fill="none" stroke="#5e5e5e" stroke-width="1.3" stroke-linejoin="miter" stroke-miterlimit="3"/><line x1="529.05" y1="298.96" x2="529.05" y2="324.16" stroke="#5e5e5e" stroke-width="1.3"/><line x1="515.45" y1="312.16" x2="542.65" y2="312.16" stroke="#5e5e5e" stroke-width="1.3"/><polygon points="514.85,310.13 536.15,298.03 536.15,322.23" fill="#dbb756" fill-opacity="0.6" stroke="none" stroke-width="1.3" stroke-linejoin="miter" stroke-miterlimit="3"/><polygon points="520.65,303.91 537.45,303.91 537.45,320.71 520.65,320.71" fill="#fff" fill-opacity="0.55"/><g clip-path="url(#c0_5290_3123)"><rect x="509.05" y="292.31" width="40" height="20" fill="#8a8a8a" fill-opacity="0.65"/><line x1="509.05" y1="312.31" x2="549.05" y2="312.31" stroke="#767676" stroke-width="1.3"/></g><polygon points="520.65,303.91 537.45,303.91 537.45,320.71 520.65,320.71" fill="none" stroke="#767676" stroke-width="1.3" stroke-linejoin="miter" stroke-miterlimit="3"/><circle cx="529.05" cy="311.69" r="9.9" fill="#fff" fill-opacity="0.55"/><g clip-path="url(#c1_5290_3116)"><rect x="529.05" y="291.69" width="20" height="40" fill="#f28888" fill-opacity="0.65"/><line x1="529.05" y1="291.69" x2="529.05" y2="331.69" stroke="#f04848" stroke-width="1.3"/></g><circle cx="529.05" cy="311.69" r="9.9" fill="none" stroke="#f04848" stroke-width="1.3" stroke-linejoin="miter" stroke-miterlimit="3"/><polygon points="517.35,302.91 540.75,302.91 529.05,322.71" fill="#fff" fill-opacity="0.55"/><g clip-path="url(#c3_5290_3095)"><rect x="529.05" y="289.51" width="20" height="40" fill="#64bb82" fill-opacity="0.65"/><line x1="529.05" y1="289.51" x2="529.05" y2="329.51" stroke="#48ad6a" stroke-width="1.3"/></g><polygon points="517.35,302.91 540.75,302.91 529.05,322.71" fill="none" stroke="#48ad6a" stroke-width="1.3" stroke-linejoin="miter" stroke-miterlimit="3"/><polygon points="529.05,295.61 540.75,315.41 517.35,315.41" fill="#fff" fill-opacity="0.55"/><g clip-path="url(#c2_5290_3088)"><rect x="529.05" y="288.81" width="20" height="40" fill="#5b8fe0" fill-opacity="0.65"/><line x1="529.05" y1="288.81" x2="529.05" y2="328.81" stroke="#3a78e0" stroke-width="1.3"/></g><polygon points="529.05,295.61 540.75,315.41 517.35,315.41" fill="none" stroke="#3a78e0" stroke-width="1.3" stroke-linejoin="miter" stroke-miterlimit="3"/><polygon points="529.05,295.61 541.65,308.21 529.05,320.81 516.45,308.21" fill="#cba2e6" fill-opacity="0.6" stroke="none" stroke-width="1.3" stroke-linejoin="miter" stroke-miterlimit="3"/><polygon points="529.05,298.64 531.65,306.65 540.08,306.65 533.26,311.61 535.86,319.62 529.05,314.67 522.23,319.62 524.83,311.61 518.01,306.65 526.44,306.65" fill="#fff" fill-opacity="0.55"/><g clip-path="url(#c15_5290_3102)"><rect x="509.05" y="290.24" width="40" height="20" fill="#f49494" fill-opacity="0.65"/><line x1="509.05" y1="310.24" x2="549.05" y2="310.24" stroke="#ef5a5a" stroke-width="1.3"/></g><polygon points="529.05,298.64 531.65,306.65 540.08,306.65 533.26,311.61 535.86,319.62 529.05,314.67 522.23,319.62 524.83,311.61 518.01,306.65 526.44,306.65" fill="none" stroke="#ef5a5a" stroke-width="1.3" stroke-linejoin="miter" stroke-miterlimit="3"/><polygon points="543.05,308.55 522.05,296.45 522.05,320.65" fill="#5ad8d8" fill-opacity="0.85" stroke="none" stroke-width="1.3" stroke-linejoin="miter" stroke-miterlimit="3"/><polygon points="520.65,304.12 537.45,304.12 537.45,320.92 520.65,320.92" fill="#fff" fill-opacity="0.55"/><g clip-path="url(#c6_5290_3125)"><rect x="529.05" y="292.52" width="20" height="40" fill="#d98ad6" fill-opacity="0.65"/><line x1="529.05" y1="292.52" x2="529.05" y2="332.52" stroke="#cf72cc" stroke-width="1.3"/></g><polygon points="520.65,304.12 537.45,304.12 537.45,320.92 520.65,320.92" fill="none" stroke="#cf72cc" stroke-width="1.3" stroke-linejoin="miter" stroke-miterlimit="3"/><polygon points="529.05,300.41 541.65,313.01 529.05,325.61 516.45,313.01" fill="#fff" fill-opacity="0.55"/><g clip-path="url(#c7_5290_3130)"><rect x="509.05" y="293.01" width="40" height="20" fill="#b2eeac" fill-opacity="0.65"/><line x1="509.05" y1="313.01" x2="549.05" y2="313.01" stroke="#8be087" stroke-width="1.3"/></g><polygon points="529.05,300.41 541.65,313.01 529.05,325.61 516.45,313.01" fill="none" stroke="#8be087" stroke-width="1.3" stroke-linejoin="miter" stroke-miterlimit="3"/><polygon points="517.35,306.65 540.75,306.65 529.05,326.45" fill="#fff" fill-opacity="0.9"/><g clip-path="url(#c8_5290_3132)"><rect x="509.05" y="293.25" width="40" height="20" fill="#e6a0dc" fill-opacity="1.0"/><line x1="509.05" y1="313.25" x2="549.05" y2="313.25" stroke="#ff88ff" stroke-width="1.3"/></g><polygon points="517.35,306.65 540.75,306.65 529.05,326.45" fill="none" stroke="#ff88ff" stroke-width="1.3" stroke-linejoin="miter" stroke-miterlimit="3"/><polygon points="602.25,360.07 612.17,365.79 612.17,377.24 602.25,382.97 592.34,377.24 592.34,365.79" fill="#ad8a8e" fill-opacity="0.6" stroke="none" stroke-width="1.3" stroke-linejoin="miter" stroke-miterlimit="3"/><polygon points="602.25,356.64 604.86,364.66 613.29,364.66 606.47,369.61 609.07,377.63 602.25,372.68 595.44,377.63 598.04,369.61 591.22,364.66 599.65,364.66" fill="#b1ae4a" fill-opacity="0.6" stroke="none" stroke-width="1.3" stroke-linejoin="miter" stroke-miterlimit="3"/><polygon points="602.25,359.94 613.29,367.96 609.07,380.93 595.44,380.93 591.22,367.96" fill="#ff9a58" fill-opacity="0.6" stroke="none" stroke-width="1.3" stroke-linejoin="miter" stroke-miterlimit="3"/><circle cx="602.25" cy="368.11" r="10.6" fill="url(#sph)" fill-opacity="0.95"/><polygon points="602.25,358.98 613.29,367.00 609.07,379.97 595.44,379.97 591.22,367.00" fill="#fff" fill-opacity="0.55"/><polygon points="602.25,358.98 613.29,367.00 609.07,379.97 595.44,379.97 591.22,367.00" fill="none" stroke="#80c640" stroke-width="1.3" stroke-linejoin="miter" stroke-miterlimit="3"/><line x1="602.25" y1="358.98" x2="602.25" y2="382.58" stroke="#80c640" stroke-width="1.3"/><line x1="589.95" y1="370.58" x2="614.55" y2="370.58" stroke="#80c640" stroke-width="1.3"/><polygon points="590.55,365.44 613.95,365.44 602.25,385.24" fill="#fff" fill-opacity="0.55"/><polygon points="590.55,365.44 613.95,365.44 602.25,385.24" fill="none" stroke="#5e5e5e" stroke-width="1.3" stroke-linejoin="miter" stroke-miterlimit="3"/><line x1="602.25" y1="358.84" x2="602.25" y2="384.04" stroke="#5e5e5e" stroke-width="1.3"/><line x1="588.65" y1="372.04" x2="615.85" y2="372.04" stroke="#5e5e5e" stroke-width="1.3"/><polygon points="588.05,370.01 609.35,357.91 609.35,382.11" fill="#dbb756" fill-opacity="0.6" stroke="none" stroke-width="1.3" stroke-linejoin="miter" stroke-miterlimit="3"/><polygon points="593.85,363.79 610.65,363.79 610.65,380.59 593.85,380.59" fill="#fff" fill-opacity="0.55"/><g clip-path="url(#c0_6022_3721)"><rect x="582.25" y="352.19" width="40" height="20" fill="#8a8a8a" fill-opacity="0.65"/><line x1="582.25" y1="372.19" x2="622.25" y2="372.19" stroke="#767676" stroke-width="1.3"/></g><polygon points="593.85,363.79 610.65,363.79 610.65,380.59 593.85,380.59" fill="none" stroke="#767676" stroke-width="1.3" stroke-linejoin="miter" stroke-miterlimit="3"/><circle cx="602.25" cy="371.57" r="9.9" fill="#fff" fill-opacity="0.55"/><g clip-path="url(#c1_6022_3715)"><rect x="602.25" y="351.57" width="20" height="40" fill="#f28888" fill-opacity="0.65"/><line x1="602.25" y1="351.57" x2="602.25" y2="391.57" stroke="#f04848" stroke-width="1.3"/></g><circle cx="602.25" cy="371.57" r="9.9" fill="none" stroke="#f04848" stroke-width="1.3" stroke-linejoin="miter" stroke-miterlimit="3"/><polygon points="590.55,362.79 613.95,362.79 602.25,382.59" fill="#fff" fill-opacity="0.55"/><g clip-path="url(#c3_6022_3693)"><rect x="602.25" y="349.39" width="20" height="40" fill="#64bb82" fill-opacity="0.65"/><line x1="602.25" y1="349.39" x2="602.25" y2="389.39" stroke="#48ad6a" stroke-width="1.3"/></g><polygon points="590.55,362.79 613.95,362.79 602.25,382.59" fill="none" stroke="#48ad6a" stroke-width="1.3" stroke-linejoin="miter" stroke-miterlimit="3"/><polygon points="602.25,355.49 613.95,375.29 590.55,375.29" fill="#fff" fill-opacity="0.55"/><g clip-path="url(#c2_6022_3686)"><rect x="602.25" y="348.69" width="20" height="40" fill="#5b8fe0" fill-opacity="0.65"/><line x1="602.25" y1="348.69" x2="602.25" y2="388.69" stroke="#3a78e0" stroke-width="1.3"/></g><polygon points="602.25,355.49 613.95,375.29 590.55,375.29" fill="none" stroke="#3a78e0" stroke-width="1.3" stroke-linejoin="miter" stroke-miterlimit="3"/><polygon points="602.25,355.49 614.85,368.09 602.25,380.69 589.65,368.09" fill="#cba2e6" fill-opacity="0.6" stroke="none" stroke-width="1.3" stroke-linejoin="miter" stroke-miterlimit="3"/><polygon points="602.25,358.51 604.86,366.53 613.29,366.53 606.47,371.48 609.07,379.50 602.25,374.55 595.44,379.50 598.04,371.48 591.22,366.53 599.65,366.53" fill="#fff" fill-opacity="0.55"/><g clip-path="url(#c15_6022_3701)"><rect x="582.25" y="350.11" width="40" height="20" fill="#f49494" fill-opacity="0.65"/><line x1="582.25" y1="370.11" x2="622.25" y2="370.11" stroke="#ef5a5a" stroke-width="1.3"/></g><polygon points="602.25,358.51 604.86,366.53 613.29,366.53 606.47,371.48 609.07,379.50 602.25,374.55 595.44,379.50 598.04,371.48 591.22,366.53 599.65,366.53" fill="none" stroke="#ef5a5a" stroke-width="1.3" stroke-linejoin="miter" stroke-miterlimit="3"/><polygon points="616.25,368.43 595.25,356.33 595.25,380.53" fill="#5ad8d8" fill-opacity="0.85" stroke="none" stroke-width="1.3" stroke-linejoin="miter" stroke-miterlimit="3"/><polygon points="593.85,364.00 610.65,364.00 610.65,380.80 593.85,380.80" fill="#fff" fill-opacity="0.55"/><g clip-path="url(#c6_6022_3723)"><rect x="602.25" y="352.40" width="20" height="40" fill="#d98ad6" fill-opacity="0.65"/><line x1="602.25" y1="352.40" x2="602.25" y2="392.40" stroke="#cf72cc" stroke-width="1.3"/></g><polygon points="593.85,364.00 610.65,364.00 610.65,380.80 593.85,380.80" fill="none" stroke="#cf72cc" stroke-width="1.3" stroke-linejoin="miter" stroke-miterlimit="3"/><polygon points="602.25,360.29 614.85,372.89 602.25,385.49 589.65,372.89" fill="#fff" fill-opacity="0.55"/><g clip-path="url(#c7_6022_3728)"><rect x="582.25" y="352.89" width="40" height="20" fill="#b2eeac" fill-opacity="0.65"/><line x1="582.25" y1="372.89" x2="622.25" y2="372.89" stroke="#8be087" stroke-width="1.3"/></g><polygon points="602.25,360.29 614.85,372.89 602.25,385.49 589.65,372.89" fill="none" stroke="#8be087" stroke-width="1.3" stroke-linejoin="miter" stroke-miterlimit="3"/><polygon points="590.55,366.53 613.95,366.53 602.25,386.33" fill="#fff" fill-opacity="0.9"/><g clip-path="url(#c8_6022_3731)"><rect x="582.25" y="353.13" width="40" height="20" fill="#e6a0dc" fill-opacity="1.0"/><line x1="582.25" y1="373.13" x2="622.25" y2="373.13" stroke="#ff88ff" stroke-width="1.3"/></g><polygon points="590.55,366.53 613.95,366.53 602.25,386.33" fill="none" stroke="#ff88ff" stroke-width="1.3" stroke-linejoin="miter" stroke-miterlimit="3"/><polygon points="675.46,419.94 685.38,425.67 685.38,437.12 675.46,442.84 665.55,437.12 665.55,425.67" fill="#ad8a8e" fill-opacity="0.6" stroke="none" stroke-width="1.3" stroke-linejoin="miter" stroke-miterlimit="3"/><polygon points="675.46,416.52 678.07,424.54 686.50,424.54 679.68,429.49 682.28,437.51 675.46,432.55 668.65,437.51 671.25,429.49 664.43,424.54 672.86,424.54" fill="#b1ae4a" fill-opacity="0.6" stroke="none" stroke-width="1.3" stroke-linejoin="miter" stroke-miterlimit="3"/><polygon points="675.46,419.82 686.50,427.84 682.28,440.80 668.65,440.80 664.43,427.84" fill="#ff9a58" fill-opacity="0.6" stroke="none" stroke-width="1.3" stroke-linejoin="miter" stroke-miterlimit="3"/><circle cx="675.46" cy="427.99" r="10.6" fill="url(#sph)" fill-opacity="0.95"/><polygon points="675.46,418.86 686.50,426.87 682.28,439.84 668.65,439.84 664.43,426.87" fill="#fff" fill-opacity="0.55"/><polygon points="675.46,418.86 686.50,426.87 682.28,439.84 668.65,439.84 664.43,426.87" fill="none" stroke="#80c640" stroke-width="1.3" stroke-linejoin="miter" stroke-miterlimit="3"/><line x1="675.46" y1="418.86" x2="675.46" y2="442.46" stroke="#80c640" stroke-width="1.3"/><line x1="663.16" y1="430.46" x2="687.76" y2="430.46" stroke="#80c640" stroke-width="1.3"/><polygon points="663.76,425.31 687.16,425.31 675.46,445.11" fill="#fff" fill-opacity="0.55"/><polygon points="663.76,425.31 687.16,425.31 675.46,445.11" fill="none" stroke="#5e5e5e" stroke-width="1.3" stroke-linejoin="miter" stroke-miterlimit="3"/><line x1="675.46" y1="418.71" x2="675.46" y2="443.91" stroke="#5e5e5e" stroke-width="1.3"/><line x1="661.86" y1="431.91" x2="689.06" y2="431.91" stroke="#5e5e5e" stroke-width="1.3"/><polygon points="661.26,429.89 682.56,417.79 682.56,441.99" fill="#dbb756" fill-opacity="0.6" stroke="none" stroke-width="1.3" stroke-linejoin="miter" stroke-miterlimit="3"/><polygon points="667.06,423.67 683.86,423.67 683.86,440.47 667.06,440.47" fill="#fff" fill-opacity="0.55"/><g clip-path="url(#c0_6754_4320)"><rect x="655.46" y="412.07" width="40" height="20" fill="#8a8a8a" fill-opacity="0.65"/><line x1="655.46" y1="432.07" x2="695.46" y2="432.07" stroke="#767676" stroke-width="1.3"/></g><polygon points="667.06,423.67 683.86,423.67 683.86,440.47 667.06,440.47" fill="none" stroke="#767676" stroke-width="1.3" stroke-linejoin="miter" stroke-miterlimit="3"/><circle cx="675.46" cy="431.45" r="9.9" fill="#fff" fill-opacity="0.55"/><g clip-path="url(#c1_6754_4314)"><rect x="675.46" y="411.45" width="20" height="40" fill="#f28888" fill-opacity="0.65"/><line x1="675.46" y1="411.45" x2="675.46" y2="451.45" stroke="#f04848" stroke-width="1.3"/></g><circle cx="675.46" cy="431.45" r="9.9" fill="none" stroke="#f04848" stroke-width="1.3" stroke-linejoin="miter" stroke-miterlimit="3"/><polygon points="663.76,422.66 687.16,422.66 675.46,442.46" fill="#fff" fill-opacity="0.55"/><g clip-path="url(#c3_6754_4292)"><rect x="675.46" y="409.26" width="20" height="40" fill="#64bb82" fill-opacity="0.65"/><line x1="675.46" y1="409.26" x2="675.46" y2="449.26" stroke="#48ad6a" stroke-width="1.3"/></g><polygon points="663.76,422.66 687.16,422.66 675.46,442.46" fill="none" stroke="#48ad6a" stroke-width="1.3" stroke-linejoin="miter" stroke-miterlimit="3"/><polygon points="675.46,415.36 687.16,435.16 663.76,435.16" fill="#fff" fill-opacity="0.55"/><g clip-path="url(#c2_6754_4285)"><rect x="675.46" y="408.56" width="20" height="40" fill="#5b8fe0" fill-opacity="0.65"/><line x1="675.46" y1="408.56" x2="675.46" y2="448.56" stroke="#3a78e0" stroke-width="1.3"/></g><polygon points="675.46,415.36 687.16,435.16 663.76,435.16" fill="none" stroke="#3a78e0" stroke-width="1.3" stroke-linejoin="miter" stroke-miterlimit="3"/><polygon points="675.46,415.37 688.06,427.97 675.46,440.57 662.86,427.97" fill="#cba2e6" fill-opacity="0.6" stroke="none" stroke-width="1.3" stroke-linejoin="miter" stroke-miterlimit="3"/><polygon points="675.46,418.39 678.07,426.41 686.50,426.41 679.68,431.36 682.28,439.38 675.46,434.42 668.65,439.38 671.25,431.36 664.43,426.41 672.86,426.41" fill="#fff" fill-opacity="0.55"/><g clip-path="url(#c15_6754_4299)"><rect x="655.46" y="409.99" width="40" height="20" fill="#f49494" fill-opacity="0.65"/><line x1="655.46" y1="429.99" x2="695.46" y2="429.99" stroke="#ef5a5a" stroke-width="1.3"/></g><polygon points="675.46,418.39 678.07,426.41 686.50,426.41 679.68,431.36 682.28,439.38 675.46,434.42 668.65,439.38 671.25,431.36 664.43,426.41 672.86,426.41" fill="none" stroke="#ef5a5a" stroke-width="1.3" stroke-linejoin="miter" stroke-miterlimit="3"/><polygon points="689.46,428.30 668.46,416.20 668.46,440.40" fill="#5ad8d8" fill-opacity="0.85" stroke="none" stroke-width="1.3" stroke-linejoin="miter" stroke-miterlimit="3"/><polygon points="667.06,423.88 683.86,423.88 683.86,440.68 667.06,440.68" fill="#fff" fill-opacity="0.55"/><g clip-path="url(#c6_6754_4322)"><rect x="675.46" y="412.28" width="20" height="40" fill="#d98ad6" fill-opacity="0.65"/><line x1="675.46" y1="412.28" x2="675.46" y2="452.28" stroke="#cf72cc" stroke-width="1.3"/></g><polygon points="667.06,423.88 683.86,423.88 683.86,440.68 667.06,440.68" fill="none" stroke="#cf72cc" stroke-width="1.3" stroke-linejoin="miter" stroke-miterlimit="3"/><polygon points="675.46,420.17 688.06,432.77 675.46,445.37 662.86,432.77" fill="#fff" fill-opacity="0.55"/><g clip-path="url(#c7_6754_4327)"><rect x="655.46" y="412.77" width="40" height="20" fill="#b2eeac" fill-opacity="0.65"/><line x1="655.46" y1="432.77" x2="695.46" y2="432.77" stroke="#8be087" stroke-width="1.3"/></g><polygon points="675.46,420.17 688.06,432.77 675.46,445.37 662.86,432.77" fill="none" stroke="#8be087" stroke-width="1.3" stroke-linejoin="miter" stroke-miterlimit="3"/><polygon points="663.76,426.40 687.16,426.40 675.46,446.20" fill="#fff" fill-opacity="0.9"/><g clip-path="url(#c8_6754_4330)"><rect x="655.46" y="413.00" width="40" height="20" fill="#e6a0dc" fill-opacity="1.0"/><line x1="655.46" y1="433.00" x2="695.46" y2="433.00" stroke="#ff88ff" stroke-width="1.3"/></g><polygon points="663.76,426.40 687.16,426.40 675.46,446.20" fill="none" stroke="#ff88ff" stroke-width="1.3" stroke-linejoin="miter" stroke-miterlimit="3"/><polygon points="748.67,479.82 758.59,485.55 758.59,497.00 748.67,502.72 738.76,497.00 738.76,485.55" fill="#ad8a8e" fill-opacity="0.6" stroke="none" stroke-width="1.3" stroke-linejoin="miter" stroke-miterlimit="3"/><polygon points="748.67,476.40 751.28,484.41 759.70,484.42 752.89,489.37 755.49,497.38 748.67,492.43 741.85,497.38 744.46,489.37 737.64,484.42 746.07,484.41" fill="#b1ae4a" fill-opacity="0.6" stroke="none" stroke-width="1.3" stroke-linejoin="miter" stroke-miterlimit="3"/><polygon points="748.67,479.70 759.70,487.71 755.49,500.68 741.85,500.68 737.64,487.71" fill="#ff9a58" fill-opacity="0.6" stroke="none" stroke-width="1.3" stroke-linejoin="miter" stroke-miterlimit="3"/><circle cx="748.67" cy="487.87" r="10.6" fill="url(#sph)" fill-opacity="0.95"/><polygon points="748.67,478.74 759.70,486.75 755.49,499.72 741.85,499.72 737.64,486.75" fill="#fff" fill-opacity="0.55"/><polygon points="748.67,478.74 759.70,486.75 755.49,499.72 741.85,499.72 737.64,486.75" fill="none" stroke="#80c640" stroke-width="1.3" stroke-linejoin="miter" stroke-miterlimit="3"/><line x1="748.67" y1="478.74" x2="748.67" y2="502.34" stroke="#80c640" stroke-width="1.3"/><line x1="736.37" y1="490.34" x2="760.97" y2="490.34" stroke="#80c640" stroke-width="1.3"/><polygon points="736.97,485.19 760.37,485.19 748.67,504.99" fill="#fff" fill-opacity="0.55"/><polygon points="736.97,485.19 760.37,485.19 748.67,504.99" fill="none" stroke="#5e5e5e" stroke-width="1.3" stroke-linejoin="miter" stroke-miterlimit="3"/><line x1="748.67" y1="478.59" x2="748.67" y2="503.79" stroke="#5e5e5e" stroke-width="1.3"/><line x1="735.07" y1="491.79" x2="762.27" y2="491.79" stroke="#5e5e5e" stroke-width="1.3"/><polygon points="734.47,489.77 755.77,477.67 755.77,501.87" fill="#dbb756" fill-opacity="0.6" stroke="none" stroke-width="1.3" stroke-linejoin="miter" stroke-miterlimit="3"/><polygon points="740.27,483.55 757.07,483.55 757.07,500.35 740.27,500.35" fill="#fff" fill-opacity="0.55"/><g clip-path="url(#c0_7486_4919)"><rect x="728.67" y="471.95" width="40" height="20" fill="#8a8a8a" fill-opacity="0.65"/><line x1="728.67" y1="491.95" x2="768.67" y2="491.95" stroke="#767676" stroke-width="1.3"/></g><polygon points="740.27,483.55 757.07,483.55 757.07,500.35 740.27,500.35" fill="none" stroke="#767676" stroke-width="1.3" stroke-linejoin="miter" stroke-miterlimit="3"/><circle cx="748.67" cy="491.32" r="9.9" fill="#fff" fill-opacity="0.55"/><g clip-path="url(#c1_7486_4913)"><rect x="748.67" y="471.32" width="20" height="40" fill="#f28888" fill-opacity="0.65"/><line x1="748.67" y1="471.32" x2="748.67" y2="511.32" stroke="#f04848" stroke-width="1.3"/></g><circle cx="748.67" cy="491.32" r="9.9" fill="none" stroke="#f04848" stroke-width="1.3" stroke-linejoin="miter" stroke-miterlimit="3"/><polygon points="736.97,482.54 760.37,482.54 748.67,502.34" fill="#fff" fill-opacity="0.55"/><g clip-path="url(#c3_7486_4891)"><rect x="748.67" y="469.14" width="20" height="40" fill="#64bb82" fill-opacity="0.65"/><line x1="748.67" y1="469.14" x2="748.67" y2="509.14" stroke="#48ad6a" stroke-width="1.3"/></g><polygon points="736.97,482.54 760.37,482.54 748.67,502.34" fill="none" stroke="#48ad6a" stroke-width="1.3" stroke-linejoin="miter" stroke-miterlimit="3"/><polygon points="748.67,475.24 760.37,495.04 736.97,495.04" fill="#fff" fill-opacity="0.55"/><g clip-path="url(#c2_7486_4884)"><rect x="748.67" y="468.44" width="20" height="40" fill="#5b8fe0" fill-opacity="0.65"/><line x1="748.67" y1="468.44" x2="748.67" y2="508.44" stroke="#3a78e0" stroke-width="1.3"/></g><polygon points="748.67,475.24 760.37,495.04 736.97,495.04" fill="none" stroke="#3a78e0" stroke-width="1.3" stroke-linejoin="miter" stroke-miterlimit="3"/><polygon points="748.67,475.24 761.27,487.84 748.67,500.44 736.07,487.84" fill="#cba2e6" fill-opacity="0.6" stroke="none" stroke-width="1.3" stroke-linejoin="miter" stroke-miterlimit="3"/><polygon points="748.67,478.27 751.28,486.28 759.70,486.28 752.89,491.24 755.49,499.25 748.67,494.30 741.85,499.25 744.46,491.24 737.64,486.28 746.07,486.28" fill="#fff" fill-opacity="0.55"/><g clip-path="url(#c15_7486_4898)"><rect x="728.67" y="469.87" width="40" height="20" fill="#f49494" fill-opacity="0.65"/><line x1="728.67" y1="489.87" x2="768.67" y2="489.87" stroke="#ef5a5a" stroke-width="1.3"/></g><polygon points="748.67,478.27 751.28,486.28 759.70,486.28 752.89,491.24 755.49,499.25 748.67,494.30 741.85,499.25 744.46,491.24 737.64,486.28 746.07,486.28" fill="none" stroke="#ef5a5a" stroke-width="1.3" stroke-linejoin="miter" stroke-miterlimit="3"/><polygon points="762.67,488.18 741.67,476.08 741.67,500.28" fill="#5ad8d8" fill-opacity="0.85" stroke="none" stroke-width="1.3" stroke-linejoin="miter" stroke-miterlimit="3"/><polygon points="740.27,483.75 757.07,483.75 757.07,500.55 740.27,500.55" fill="#fff" fill-opacity="0.55"/><g clip-path="url(#c6_7486_4921)"><rect x="748.67" y="472.15" width="20" height="40" fill="#d98ad6" fill-opacity="0.65"/><line x1="748.67" y1="472.15" x2="748.67" y2="512.15" stroke="#cf72cc" stroke-width="1.3"/></g><polygon points="740.27,483.75 757.07,483.75 757.07,500.55 740.27,500.55" fill="none" stroke="#cf72cc" stroke-width="1.3" stroke-linejoin="miter" stroke-miterlimit="3"/><polygon points="748.67,480.05 761.27,492.65 748.67,505.25 736.07,492.65" fill="#fff" fill-opacity="0.55"/><g clip-path="url(#c7_7486_4926)"><rect x="728.67" y="472.65" width="40" height="20" fill="#b2eeac" fill-opacity="0.65"/><line x1="728.67" y1="492.65" x2="768.67" y2="492.65" stroke="#8be087" stroke-width="1.3"/></g><polygon points="748.67,480.05 761.27,492.65 748.67,505.25 736.07,492.65" fill="none" stroke="#8be087" stroke-width="1.3" stroke-linejoin="miter" stroke-miterlimit="3"/><polygon points="736.97,486.28 760.37,486.28 748.67,506.08" fill="#fff" fill-opacity="0.9"/><g clip-path="url(#c8_7486_4928)"><rect x="728.67" y="472.88" width="40" height="20" fill="#e6a0dc" fill-opacity="1.0"/><line x1="728.67" y1="492.88" x2="768.67" y2="492.88" stroke="#ff88ff" stroke-width="1.3"/></g><polygon points="736.97,486.28 760.37,486.28 748.67,506.08" fill="none" stroke="#ff88ff" stroke-width="1.3" stroke-linejoin="miter" stroke-miterlimit="3"/><polygon points="821.88,539.70 831.80,545.42 831.80,556.87 821.88,562.60 811.97,556.87 811.97,545.42" fill="#ad8a8e" fill-opacity="0.6" stroke="none" stroke-width="1.3" stroke-linejoin="miter" stroke-miterlimit="3"/><polygon points="821.88,536.28 824.49,544.29 832.91,544.29 826.10,549.25 828.70,557.26 821.88,552.31 815.06,557.26 817.67,549.25 810.85,544.29 819.28,544.29" fill="#b1ae4a" fill-opacity="0.6" stroke="none" stroke-width="1.3" stroke-linejoin="miter" stroke-miterlimit="3"/><polygon points="821.88,539.57 832.91,547.59 828.70,560.56 815.06,560.56 810.85,547.59" fill="#ff9a58" fill-opacity="0.6" stroke="none" stroke-width="1.3" stroke-linejoin="miter" stroke-miterlimit="3"/><circle cx="821.88" cy="547.75" r="10.6" fill="url(#sph)" fill-opacity="0.95"/><polygon points="821.88,538.61 832.91,546.63 828.70,559.60 815.06,559.60 810.85,546.63" fill="#fff" fill-opacity="0.55"/><polygon points="821.88,538.61 832.91,546.63 828.70,559.60 815.06,559.60 810.85,546.63" fill="none" stroke="#80c640" stroke-width="1.3" stroke-linejoin="miter" stroke-miterlimit="3"/><line x1="821.88" y1="538.61" x2="821.88" y2="562.21" stroke="#80c640" stroke-width="1.3"/><line x1="809.58" y1="550.21" x2="834.18" y2="550.21" stroke="#80c640" stroke-width="1.3"/><polygon points="810.18,545.07 833.58,545.07 821.88,564.87" fill="#fff" fill-opacity="0.55"/><polygon points="810.18,545.07 833.58,545.07 821.88,564.87" fill="none" stroke="#5e5e5e" stroke-width="1.3" stroke-linejoin="miter" stroke-miterlimit="3"/><line x1="821.88" y1="538.47" x2="821.88" y2="563.67" stroke="#5e5e5e" stroke-width="1.3"/><line x1="808.28" y1="551.67" x2="835.48" y2="551.67" stroke="#5e5e5e" stroke-width="1.3"/><polygon points="807.68,549.64 828.98,537.54 828.98,561.74" fill="#dbb756" fill-opacity="0.6" stroke="none" stroke-width="1.3" stroke-linejoin="miter" stroke-miterlimit="3"/><polygon points="813.48,543.42 830.28,543.42 830.28,560.22 813.48,560.22" fill="#fff" fill-opacity="0.55"/><g clip-path="url(#c0_8218_5518)"><rect x="801.88" y="531.82" width="40" height="20" fill="#8a8a8a" fill-opacity="0.65"/><line x1="801.88" y1="551.82" x2="841.88" y2="551.82" stroke="#767676" stroke-width="1.3"/></g><polygon points="813.48,543.42 830.28,543.42 830.28,560.22 813.48,560.22" fill="none" stroke="#767676" stroke-width="1.3" stroke-linejoin="miter" stroke-miterlimit="3"/><circle cx="821.88" cy="551.20" r="9.9" fill="#fff" fill-opacity="0.55"/><g clip-path="url(#c1_8218_5512)"><rect x="821.88" y="531.20" width="20" height="40" fill="#f28888" fill-opacity="0.65"/><line x1="821.88" y1="531.20" x2="821.88" y2="571.20" stroke="#f04848" stroke-width="1.3"/></g><circle cx="821.88" cy="551.20" r="9.9" fill="none" stroke="#f04848" stroke-width="1.3" stroke-linejoin="miter" stroke-miterlimit="3"/><polygon points="810.18,542.42 833.58,542.42 821.88,562.22" fill="#fff" fill-opacity="0.55"/><g clip-path="url(#c3_8218_5490)"><rect x="821.88" y="529.02" width="20" height="40" fill="#64bb82" fill-opacity="0.65"/><line x1="821.88" y1="529.02" x2="821.88" y2="569.02" stroke="#48ad6a" stroke-width="1.3"/></g><polygon points="810.18,542.42 833.58,542.42 821.88,562.22" fill="none" stroke="#48ad6a" stroke-width="1.3" stroke-linejoin="miter" stroke-miterlimit="3"/><polygon points="821.88,535.12 833.58,554.92 810.18,554.92" fill="#fff" fill-opacity="0.55"/><g clip-path="url(#c2_8218_5483)"><rect x="821.88" y="528.32" width="20" height="40" fill="#5b8fe0" fill-opacity="0.65"/><line x1="821.88" y1="528.32" x2="821.88" y2="568.32" stroke="#3a78e0" stroke-width="1.3"/></g><polygon points="821.88,535.12 833.58,554.92 810.18,554.92" fill="none" stroke="#3a78e0" stroke-width="1.3" stroke-linejoin="miter" stroke-miterlimit="3"/><polygon points="821.88,535.12 834.48,547.72 821.88,560.32 809.28,547.72" fill="#cba2e6" fill-opacity="0.6" stroke="none" stroke-width="1.3" stroke-linejoin="miter" stroke-miterlimit="3"/><polygon points="821.88,538.15 824.49,546.16 832.91,546.16 826.10,551.12 828.70,559.13 821.88,554.18 815.06,559.13 817.67,551.12 810.85,546.16 819.28,546.16" fill="#fff" fill-opacity="0.55"/><g clip-path="url(#c15_8218_5497)"><rect x="801.88" y="529.75" width="40" height="20" fill="#f49494" fill-opacity="0.65"/><line x1="801.88" y1="549.75" x2="841.88" y2="549.75" stroke="#ef5a5a" stroke-width="1.3"/></g><polygon points="821.88,538.15 824.49,546.16 832.91,546.16 826.10,551.12 828.70,559.13 821.88,554.18 815.06,559.13 817.67,551.12 810.85,546.16 819.28,546.16" fill="none" stroke="#ef5a5a" stroke-width="1.3" stroke-linejoin="miter" stroke-miterlimit="3"/><polygon points="835.88,548.06 814.88,535.96 814.88,560.16" fill="#5ad8d8" fill-opacity="0.85" stroke="none" stroke-width="1.3" stroke-linejoin="miter" stroke-miterlimit="3"/><polygon points="813.48,543.63 830.28,543.63 830.28,560.43 813.48,560.43" fill="#fff" fill-opacity="0.55"/><g clip-path="url(#c6_8218_5520)"><rect x="821.88" y="532.03" width="20" height="40" fill="#d98ad6" fill-opacity="0.65"/><line x1="821.88" y1="532.03" x2="821.88" y2="572.03" stroke="#cf72cc" stroke-width="1.3"/></g><polygon points="813.48,543.63 830.28,543.63 830.28,560.43 813.48,560.43" fill="none" stroke="#cf72cc" stroke-width="1.3" stroke-linejoin="miter" stroke-miterlimit="3"/><polygon points="821.88,539.93 834.48,552.53 821.88,565.13 809.28,552.53" fill="#fff" fill-opacity="0.55"/><g clip-path="url(#c7_8218_5525)"><rect x="801.88" y="532.53" width="40" height="20" fill="#b2eeac" fill-opacity="0.65"/><line x1="801.88" y1="552.53" x2="841.88" y2="552.53" stroke="#8be087" stroke-width="1.3"/></g><polygon points="821.88,539.93 834.48,552.53 821.88,565.13 809.28,552.53" fill="none" stroke="#8be087" stroke-width="1.3" stroke-linejoin="miter" stroke-miterlimit="3"/><polygon points="810.18,546.16 833.58,546.16 821.88,565.96" fill="#fff" fill-opacity="0.9"/><g clip-path="url(#c8_8218_5527)"><rect x="801.88" y="532.76" width="40" height="20" fill="#e6a0dc" fill-opacity="1.0"/><line x1="801.88" y1="552.76" x2="841.88" y2="552.76" stroke="#ff88ff" stroke-width="1.3"/></g><polygon points="810.18,546.16 833.58,546.16 821.88,565.96" fill="none" stroke="#ff88ff" stroke-width="1.3" stroke-linejoin="miter" stroke-miterlimit="3"/><polygon points="895.09,599.58 905.01,605.30 905.01,616.75 895.09,622.48 885.17,616.75 885.17,605.30" fill="#ad8a8e" fill-opacity="0.6" stroke="none" stroke-width="1.3" stroke-linejoin="miter" stroke-miterlimit="3"/><polygon points="895.09,596.15 897.70,604.17 906.12,604.17 899.31,609.12 901.91,617.14 895.09,612.19 888.27,617.14 890.88,609.12 884.06,604.17 892.49,604.17" fill="#b1ae4a" fill-opacity="0.6" stroke="none" stroke-width="1.3" stroke-linejoin="miter" stroke-miterlimit="3"/><polygon points="895.09,599.45 906.12,607.47 901.91,620.44 888.27,620.44 884.06,607.47" fill="#ff9a58" fill-opacity="0.6" stroke="none" stroke-width="1.3" stroke-linejoin="miter" stroke-miterlimit="3"/><circle cx="895.09" cy="607.63" r="10.6" fill="url(#sph)" fill-opacity="0.95"/><polygon points="895.09,598.49 906.12,606.51 901.91,619.48 888.27,619.48 884.06,606.51" fill="#fff" fill-opacity="0.55"/><polygon points="895.09,598.49 906.12,606.51 901.91,619.48 888.27,619.48 884.06,606.51" fill="none" stroke="#80c640" stroke-width="1.3" stroke-linejoin="miter" stroke-miterlimit="3"/><line x1="895.09" y1="598.49" x2="895.09" y2="622.09" stroke="#80c640" stroke-width="1.3"/><line x1="882.79" y1="610.09" x2="907.39" y2="610.09" stroke="#80c640" stroke-width="1.3"/><polygon points="883.39,604.95 906.79,604.95 895.09,624.75" fill="#fff" fill-opacity="0.55"/><polygon points="883.39,604.95 906.79,604.95 895.09,624.75" fill="none" stroke="#5e5e5e" stroke-width="1.3" stroke-linejoin="miter" stroke-miterlimit="3"/><line x1="895.09" y1="598.35" x2="895.09" y2="623.55" stroke="#5e5e5e" stroke-width="1.3"/><line x1="881.49" y1="611.55" x2="908.69" y2="611.55" stroke="#5e5e5e" stroke-width="1.3"/><polygon points="880.89,609.52 902.19,597.42 902.19,621.62" fill="#dbb756" fill-opacity="0.6" stroke="none" stroke-width="1.3" stroke-linejoin="miter" stroke-miterlimit="3"/><polygon points="886.69,603.30 903.49,603.30 903.49,620.10 886.69,620.10" fill="#fff" fill-opacity="0.55"/><g clip-path="url(#c0_8950_6117)"><rect x="875.09" y="591.70" width="40" height="20" fill="#8a8a8a" fill-opacity="0.65"/><line x1="875.09" y1="611.70" x2="915.09" y2="611.70" stroke="#767676" stroke-width="1.3"/></g><polygon points="886.69,603.30 903.49,603.30 903.49,620.10 886.69,620.10" fill="none" stroke="#767676" stroke-width="1.3" stroke-linejoin="miter" stroke-miterlimit="3"/><circle cx="895.09" cy="611.08" r="9.9" fill="#fff" fill-opacity="0.55"/><g clip-path="url(#c1_8950_6110)"><rect x="895.09" y="591.08" width="20" height="40" fill="#f28888" fill-opacity="0.65"/><line x1="895.09" y1="591.08" x2="895.09" y2="631.08" stroke="#f04848" stroke-width="1.3"/></g><circle cx="895.09" cy="611.08" r="9.9" fill="none" stroke="#f04848" stroke-width="1.3" stroke-linejoin="miter" stroke-miterlimit="3"/><polygon points="883.39,602.30 906.79,602.30 895.09,622.10" fill="#fff" fill-opacity="0.55"/><g clip-path="url(#c3_8950_6088)"><rect x="895.09" y="588.90" width="20" height="40" fill="#64bb82" fill-opacity="0.65"/><line x1="895.09" y1="588.90" x2="895.09" y2="628.90" stroke="#48ad6a" stroke-width="1.3"/></g><polygon points="883.39,602.30 906.79,602.30 895.09,622.10" fill="none" stroke="#48ad6a" stroke-width="1.3" stroke-linejoin="miter" stroke-miterlimit="3"/><polygon points="895.09,595.00 906.79,614.80 883.39,614.80" fill="#fff" fill-opacity="0.55"/><g clip-path="url(#c2_8950_6081)"><rect x="895.09" y="588.20" width="20" height="40" fill="#5b8fe0" fill-opacity="0.65"/><line x1="895.09" y1="588.20" x2="895.09" y2="628.20" stroke="#3a78e0" stroke-width="1.3"/></g><polygon points="895.09,595.00 906.79,614.80 883.39,614.80" fill="none" stroke="#3a78e0" stroke-width="1.3" stroke-linejoin="miter" stroke-miterlimit="3"/><polygon points="895.09,595.00 907.69,607.60 895.09,620.20 882.49,607.60" fill="#cba2e6" fill-opacity="0.6" stroke="none" stroke-width="1.3" stroke-linejoin="miter" stroke-miterlimit="3"/><polygon points="895.09,598.02 897.70,606.04 906.12,606.04 899.31,610.99 901.91,619.01 895.09,614.06 888.27,619.01 890.88,610.99 884.06,606.04 892.49,606.04" fill="#fff" fill-opacity="0.55"/><g clip-path="url(#c15_8950_6096)"><rect x="875.09" y="589.62" width="40" height="20" fill="#f49494" fill-opacity="0.65"/><line x1="875.09" y1="609.62" x2="915.09" y2="609.62" stroke="#ef5a5a" stroke-width="1.3"/></g><polygon points="895.09,598.02 897.70,606.04 906.12,606.04 899.31,610.99 901.91,619.01 895.09,614.06 888.27,619.01 890.88,610.99 884.06,606.04 892.49,606.04" fill="none" stroke="#ef5a5a" stroke-width="1.3" stroke-linejoin="miter" stroke-miterlimit="3"/><polygon points="909.09,607.94 888.09,595.84 888.09,620.04" fill="#5ad8d8" fill-opacity="0.85" stroke="none" stroke-width="1.3" stroke-linejoin="miter" stroke-miterlimit="3"/><polygon points="886.69,603.51 903.49,603.51 903.49,620.31 886.69,620.31" fill="#fff" fill-opacity="0.55"/><g clip-path="url(#c6_8950_6119)"><rect x="895.09" y="591.91" width="20" height="40" fill="#d98ad6" fill-opacity="0.65"/><line x1="895.09" y1="591.91" x2="895.09" y2="631.91" stroke="#cf72cc" stroke-width="1.3"/></g><polygon points="886.69,603.51 903.49,603.51 903.49,620.31 886.69,620.31" fill="none" stroke="#cf72cc" stroke-width="1.3" stroke-linejoin="miter" stroke-miterlimit="3"/><polygon points="895.09,599.80 907.69,612.40 895.09,625.00 882.49,612.40" fill="#fff" fill-opacity="0.55"/><g clip-path="url(#c7_8950_6124)"><rect x="875.09" y="592.40" width="40" height="20" fill="#b2eeac" fill-opacity="0.65"/><line x1="875.09" y1="612.40" x2="915.09" y2="612.40" stroke="#8be087" stroke-width="1.3"/></g><polygon points="895.09,599.80 907.69,612.40 895.09,625.00 882.49,612.40" fill="none" stroke="#8be087" stroke-width="1.3" stroke-linejoin="miter" stroke-miterlimit="3"/><polygon points="883.39,606.04 906.79,606.04 895.09,625.84" fill="#fff" fill-opacity="0.9"/><g clip-path="url(#c8_8950_6126)"><rect x="875.09" y="592.64" width="40" height="20" fill="#e6a0dc" fill-opacity="1.0"/><line x1="875.09" y1="612.64" x2="915.09" y2="612.64" stroke="#ff88ff" stroke-width="1.3"/></g><polygon points="883.39,606.04 906.79,606.04 895.09,625.84" fill="none" stroke="#ff88ff" stroke-width="1.3" stroke-linejoin="miter" stroke-miterlimit="3"/></g><line x1="176.1" y1="259.10" x2="237.0" y2="259.10" stroke="#808080" stroke-width="2.2" stroke-linecap="round" stroke-dasharray="10.5 14.7"/><polygon points="201.20,250.70 218.00,250.70 218.00,267.50 201.20,267.50" fill="#fff" fill-opacity="0.85"/><g clip-path="url(#c100_2096_2591)"><rect x="189.60" y="239.10" width="40" height="20" fill="#8a8a8a" fill-opacity="0.8"/><line x1="189.60" y1="259.10" x2="229.60" y2="259.10" stroke="#767676" stroke-width="1.3"/></g><polygon points="201.20,250.70 218.00,250.70 218.00,267.50 201.20,267.50" fill="none" stroke="#767676" stroke-width="1.3" stroke-linejoin="miter" stroke-miterlimit="3"/><text transform="translate(252.50,270.80) scale(1,1.025)" class="lg"><tspan font-style="italic">H</tspan><tspan dx="-1.6" dy="7.7" font-size="19px">mix</tspan><tspan dy="-7.7">(DyY)=51</tspan></text><line x1="176.1" y1="305.37" x2="237.0" y2="305.37" stroke="#f27070" stroke-width="2.2" stroke-linecap="round" stroke-dasharray="10.5 14.7"/><circle cx="209.60" cy="305.37" r="9.9" fill="#fff" fill-opacity="0.85"/><g clip-path="url(#c101_2096_3053)"><rect x="209.60" y="285.37" width="20" height="40" fill="#f28888" fill-opacity="0.8"/><line x1="209.60" y1="285.37" x2="209.60" y2="325.37" stroke="#f04848" stroke-width="1.3"/></g><circle cx="209.60" cy="305.37" r="9.9" fill="none" stroke="#f04848" stroke-width="1.3" stroke-linejoin="miter" stroke-miterlimit="3"/><text transform="translate(252.50,317.07) scale(1,1.025)" class="lg"><tspan font-style="italic">H</tspan><tspan dx="-1.6" dy="7.7" font-size="19px">mix</tspan><tspan dy="-7.7">(EuGd)=75</tspan></text><line x1="176.1" y1="351.64" x2="237.0" y2="351.64" stroke="#5592e6" stroke-width="2.2" stroke-linecap="round" stroke-dasharray="10.5 14.7"/><polygon points="209.60,338.44 221.30,358.24 197.90,358.24" fill="#fff" fill-opacity="0.85"/><g clip-path="url(#c102_2096_3516)"><rect x="209.60" y="331.64" width="20" height="40" fill="#5b8fe0" fill-opacity="0.8"/><line x1="209.60" y1="331.64" x2="209.60" y2="371.64" stroke="#3a78e0" stroke-width="1.3"/></g><polygon points="209.60,338.44 221.30,358.24 197.90,358.24" fill="none" stroke="#3a78e0" stroke-width="1.3" stroke-linejoin="miter" stroke-miterlimit="3"/><text transform="translate(252.50,363.34) scale(1,1.025)" class="lg"><tspan font-style="italic">H</tspan><tspan dx="-1.6" dy="7.7" font-size="19px">mix</tspan><tspan dy="-7.7">(EuTb)=186</tspan></text><line x1="176.1" y1="397.91" x2="237.0" y2="397.91" stroke="#6cc192" stroke-width="2.2" stroke-linecap="round" stroke-dasharray="10.5 14.7"/><polygon points="197.90,391.31 221.30,391.31 209.60,411.11" fill="#fff" fill-opacity="0.85"/><g clip-path="url(#c103_2096_3979)"><rect x="209.60" y="377.91" width="20" height="40" fill="#64bb82" fill-opacity="0.8"/><line x1="209.60" y1="377.91" x2="209.60" y2="417.91" stroke="#48ad6a" stroke-width="1.3"/></g><polygon points="197.90,391.31 221.30,391.31 209.60,411.11" fill="none" stroke="#48ad6a" stroke-width="1.3" stroke-linejoin="miter" stroke-miterlimit="3"/><text transform="translate(252.50,409.61) scale(1,1.025)" class="lg"><tspan font-style="italic">H</tspan><tspan dx="-1.6" dy="7.7" font-size="19px">mix</tspan><tspan dy="-7.7">(EuDy)=159</tspan></text><line x1="176.1" y1="444.18" x2="237.0" y2="444.18" stroke="#c69ee8" stroke-width="2.2" stroke-linecap="round" stroke-dasharray="10.5 14.7"/><polygon points="209.60,431.58 222.20,444.18 209.60,456.78 197.00,444.18" fill="#cba2e6" fill-opacity="0.78" stroke="none" stroke-width="1.3" stroke-linejoin="miter" stroke-miterlimit="3"/><text transform="translate(252.50,455.88) scale(1,1.025)" class="lg"><tspan font-style="italic">H</tspan><tspan dx="-1.6" dy="7.7" font-size="19px">mix</tspan><tspan dy="-7.7">(EuHo)=209</tspan></text><line x1="176.1" y1="490.45" x2="237.0" y2="490.45" stroke="#dab448" stroke-width="2.2" stroke-linecap="round" stroke-dasharray="10.5 14.7"/><polygon points="195.40,490.45 216.70,478.35 216.70,502.55" fill="#dbb756" fill-opacity="0.78" stroke="none" stroke-width="1.3" stroke-linejoin="miter" stroke-miterlimit="3"/><text transform="translate(252.50,502.15) scale(1,1.025)" class="lg"><tspan font-style="italic">H</tspan><tspan dx="-1.6" dy="7.7" font-size="19px">mix</tspan><tspan dy="-7.7">(EuEr)=135</tspan></text><line x1="176.1" y1="536.72" x2="186.6" y2="536.72" stroke="#d888da" stroke-width="2.2" stroke-linecap="round"/><line x1="223.5" y1="536.72" x2="234.1" y2="536.72" stroke="#d888da" stroke-width="2.2" stroke-linecap="round"/><polygon points="201.20,528.32 218.00,528.32 218.00,545.12 201.20,545.12" fill="#fff" fill-opacity="0.85"/><g clip-path="url(#c106_2096_5367)"><rect x="209.60" y="516.72" width="20" height="40" fill="#d98ad6" fill-opacity="0.8"/><line x1="209.60" y1="516.72" x2="209.60" y2="556.72" stroke="#cf72cc" stroke-width="1.3"/></g><polygon points="201.20,528.32 218.00,528.32 218.00,545.12 201.20,545.12" fill="none" stroke="#cf72cc" stroke-width="1.3" stroke-linejoin="miter" stroke-miterlimit="3"/><text transform="translate(252.50,548.42) scale(1,1.025)" class="lg"><tspan font-style="italic">H</tspan><tspan dx="-1.6" dy="7.7" font-size="19px">mix</tspan><tspan dy="-7.7">(HoY)=43</tspan></text><line x1="176.1" y1="582.99" x2="186.6" y2="582.99" stroke="#a2ea96" stroke-width="2.2" stroke-linecap="round"/><line x1="223.5" y1="582.99" x2="234.1" y2="582.99" stroke="#a2ea96" stroke-width="2.2" stroke-linecap="round"/><polygon points="209.60,570.39 222.20,582.99 209.60,595.59 197.00,582.99" fill="#fff" fill-opacity="0.85"/><g clip-path="url(#c107_2096_5829)"><rect x="189.60" y="562.99" width="40" height="20" fill="#b2eeac" fill-opacity="0.8"/><line x1="189.60" y1="582.99" x2="229.60" y2="582.99" stroke="#8be087" stroke-width="1.3"/></g><polygon points="209.60,570.39 222.20,582.99 209.60,595.59 197.00,582.99" fill="none" stroke="#8be087" stroke-width="1.3" stroke-linejoin="miter" stroke-miterlimit="3"/><text transform="translate(252.50,594.69) scale(1,1.025)" class="lg"><tspan font-style="italic">H</tspan><tspan dx="-1.6" dy="7.7" font-size="19px">mix</tspan><tspan dy="-7.7">(ErY)=24</tspan></text><line x1="175.0" y1="629.26" x2="243.0" y2="629.26" stroke="#ffb2ff" stroke-width="1.6" stroke-dasharray="4.3 3.7"/><polygon points="197.90,622.66 221.30,622.66 209.60,642.46" fill="#fff" fill-opacity="1.0"/><g clip-path="url(#c108_2096_6292)"><rect x="189.60" y="609.26" width="40" height="20" fill="#ffa8ff" fill-opacity="0.8"/><line x1="189.60" y1="629.26" x2="229.60" y2="629.26" stroke="#ff70ff" stroke-width="1.3"/></g><polygon points="197.90,622.66 221.30,622.66 209.60,642.46" fill="none" stroke="#ff70ff" stroke-width="1.3" stroke-linejoin="miter" stroke-miterlimit="3"/><text transform="translate(252.50,640.96) scale(1,1.025)" class="lg"><tspan font-style="italic">H</tspan><tspan dx="-1.6" dy="7.7" font-size="19px">mix</tspan><tspan dy="-7.7">(TmY)=15</tspan></text><line x1="671.6" y1="36.30" x2="732.5" y2="36.30" stroke="#9e7a7a" stroke-width="2.2" stroke-linecap="round" stroke-dasharray="10.5 14.7"/><polygon points="705.10,24.85 715.02,30.57 715.02,42.02 705.10,47.75 695.18,42.02 695.18,30.57" fill="#ad8a8e" fill-opacity="0.78" stroke="none" stroke-width="1.3" stroke-linejoin="miter" stroke-miterlimit="3"/><text transform="translate(739.50,48.00) scale(1,1.025)" class="lg"><tspan font-style="italic">H</tspan><tspan dx="-1.6" dy="7.7" font-size="19px">mix</tspan><tspan dy="-7.7">(GdTb)=77</tspan></text><line x1="671.6" y1="82.36" x2="732.5" y2="82.36" stroke="#aaac44" stroke-width="2.2" stroke-linecap="round" stroke-dasharray="10.5 14.7"/><polygon points="705.10,70.76 707.70,78.78 716.13,78.78 709.31,83.73 711.92,91.74 705.10,86.79 698.28,91.74 700.89,83.73 694.07,78.78 702.50,78.78" fill="#b1ae4a" fill-opacity="0.78" stroke="none" stroke-width="1.3" stroke-linejoin="miter" stroke-miterlimit="3"/><text transform="translate(739.50,94.06) scale(1,1.025)" class="lg"><tspan font-style="italic">H</tspan><tspan dx="-1.6" dy="7.7" font-size="19px">mix</tspan><tspan dy="-7.7">(GdDy)=203</tspan></text><line x1="671.6" y1="128.42" x2="732.5" y2="128.42" stroke="#fc8c40" stroke-width="2.2" stroke-linecap="round" stroke-dasharray="10.5 14.7"/><polygon points="705.10,116.82 716.13,124.84 711.92,137.80 698.28,137.80 694.07,124.84" fill="#ff9a58" fill-opacity="0.78" stroke="none" stroke-width="1.3" stroke-linejoin="miter" stroke-miterlimit="3"/><text transform="translate(739.50,140.12) scale(1,1.025)" class="lg"><tspan font-style="italic">H</tspan><tspan dx="-1.6" dy="7.7" font-size="19px">mix</tspan><tspan dy="-7.7">(GdEr)=76</tspan></text><line x1="671.6" y1="174.48" x2="732.5" y2="174.48" stroke="#8cb2da" stroke-width="2.2" stroke-linecap="round" stroke-dasharray="10.5 14.7"/><circle cx="705.10" cy="174.48" r="10.6" fill="url(#sph)" fill-opacity="0.95"/><text transform="translate(739.50,186.18) scale(1,1.025)" class="lg"><tspan font-style="italic">H</tspan><tspan dx="-1.6" dy="7.7" font-size="19px">mix</tspan><tspan dy="-7.7">(GdY)=208</tspan></text><line x1="671.6" y1="220.54" x2="732.5" y2="220.54" stroke="#94cc46" stroke-width="2.2" stroke-linecap="round" stroke-dasharray="10.5 14.7"/><polygon points="705.10,208.94 716.13,216.96 711.92,229.92 698.28,229.92 694.07,216.96" fill="#fff" fill-opacity="0.85"/><polygon points="705.10,208.94 716.13,216.96 711.92,229.92 698.28,229.92 694.07,216.96" fill="none" stroke="#80c640" stroke-width="1.3" stroke-linejoin="miter" stroke-miterlimit="3"/><line x1="705.10" y1="208.94" x2="705.10" y2="232.54" stroke="#80c640" stroke-width="1.3"/><line x1="692.80" y1="220.54" x2="717.40" y2="220.54" stroke="#80c640" stroke-width="1.3"/><text transform="translate(739.50,232.24) scale(1,1.025)" class="lg"><tspan font-style="italic">H</tspan><tspan dx="-1.6" dy="7.7" font-size="19px">mix</tspan><tspan dy="-7.7">(TbDy)=113</tspan></text><line x1="671.6" y1="266.60" x2="732.5" y2="266.60" stroke="#7e7e7e" stroke-width="2.2" stroke-linecap="round" stroke-dasharray="10.5 14.7"/><polygon points="693.40,260.00 716.80,260.00 705.10,279.80" fill="#fff" fill-opacity="0.85"/><polygon points="693.40,260.00 716.80,260.00 705.10,279.80" fill="none" stroke="#5e5e5e" stroke-width="1.3" stroke-linejoin="miter" stroke-miterlimit="3"/><line x1="705.10" y1="253.40" x2="705.10" y2="278.60" stroke="#5e5e5e" stroke-width="1.3"/><line x1="691.50" y1="266.60" x2="718.70" y2="266.60" stroke="#5e5e5e" stroke-width="1.3"/><text transform="translate(739.50,278.30) scale(1,1.025)" class="lg"><tspan font-style="italic">H</tspan><tspan dx="-1.6" dy="7.7" font-size="19px">mix</tspan><tspan dy="-7.7">(TbHo)=57</tspan></text><line x1="671.6" y1="312.66" x2="732.5" y2="312.66" stroke="#f57070" stroke-width="2.2" stroke-linecap="round" stroke-dasharray="10.5 14.7"/><polygon points="705.10,301.06 707.70,309.08 716.13,309.08 709.31,314.03 711.92,322.04 705.10,317.09 698.28,322.04 700.89,314.03 694.07,309.08 702.50,309.08" fill="#fff" fill-opacity="0.85"/><g clip-path="url(#c115_7051_3126)"><rect x="685.10" y="292.66" width="40" height="20" fill="#f49494" fill-opacity="0.8"/><line x1="685.10" y1="312.66" x2="725.10" y2="312.66" stroke="#ef5a5a" stroke-width="1.3"/></g><polygon points="705.10,301.06 707.70,309.08 716.13,309.08 709.31,314.03 711.92,322.04 705.10,317.09 698.28,322.04 700.89,314.03 694.07,309.08 702.50,309.08" fill="none" stroke="#ef5a5a" stroke-width="1.3" stroke-linejoin="miter" stroke-miterlimit="3"/><text transform="translate(739.50,324.36) scale(1,1.025)" class="lg"><tspan font-style="italic">H</tspan><tspan dx="-1.6" dy="7.7" font-size="19px">mix</tspan><tspan dy="-7.7">(TbY)=131</tspan></text><line x1="671.6" y1="358.72" x2="732.5" y2="358.72" stroke="#46d8d8" stroke-width="2.2" stroke-linecap="round" stroke-dasharray="10.5 14.7"/><polygon points="719.10,358.72 698.10,346.62 698.10,370.82" fill="#5ad8d8" fill-opacity="0.78" stroke="none" stroke-width="1.3" stroke-linejoin="miter" stroke-miterlimit="3"/><text transform="translate(739.50,370.42) scale(1,1.025)" class="lg"><tspan font-style="italic">H</tspan><tspan dx="-1.6" dy="7.7" font-size="19px">mix</tspan><tspan dy="-7.7">(EuY)=196</tspan></text><text transform="translate(700,650) scale(1,1.025)" class="lg">Δ<tspan font-style="italic">S</tspan>=11.53 J<tspan dx="-0.6">·</tspan><tspan dx="-1">mol</tspan><tspan dy="-11.06" font-size="18.5px">-1</tspan><tspan dy="11.06">·K</tspan><tspan dy="-11.06" font-size="18.5px">-1</tspan></text>
</svg></body></html>
